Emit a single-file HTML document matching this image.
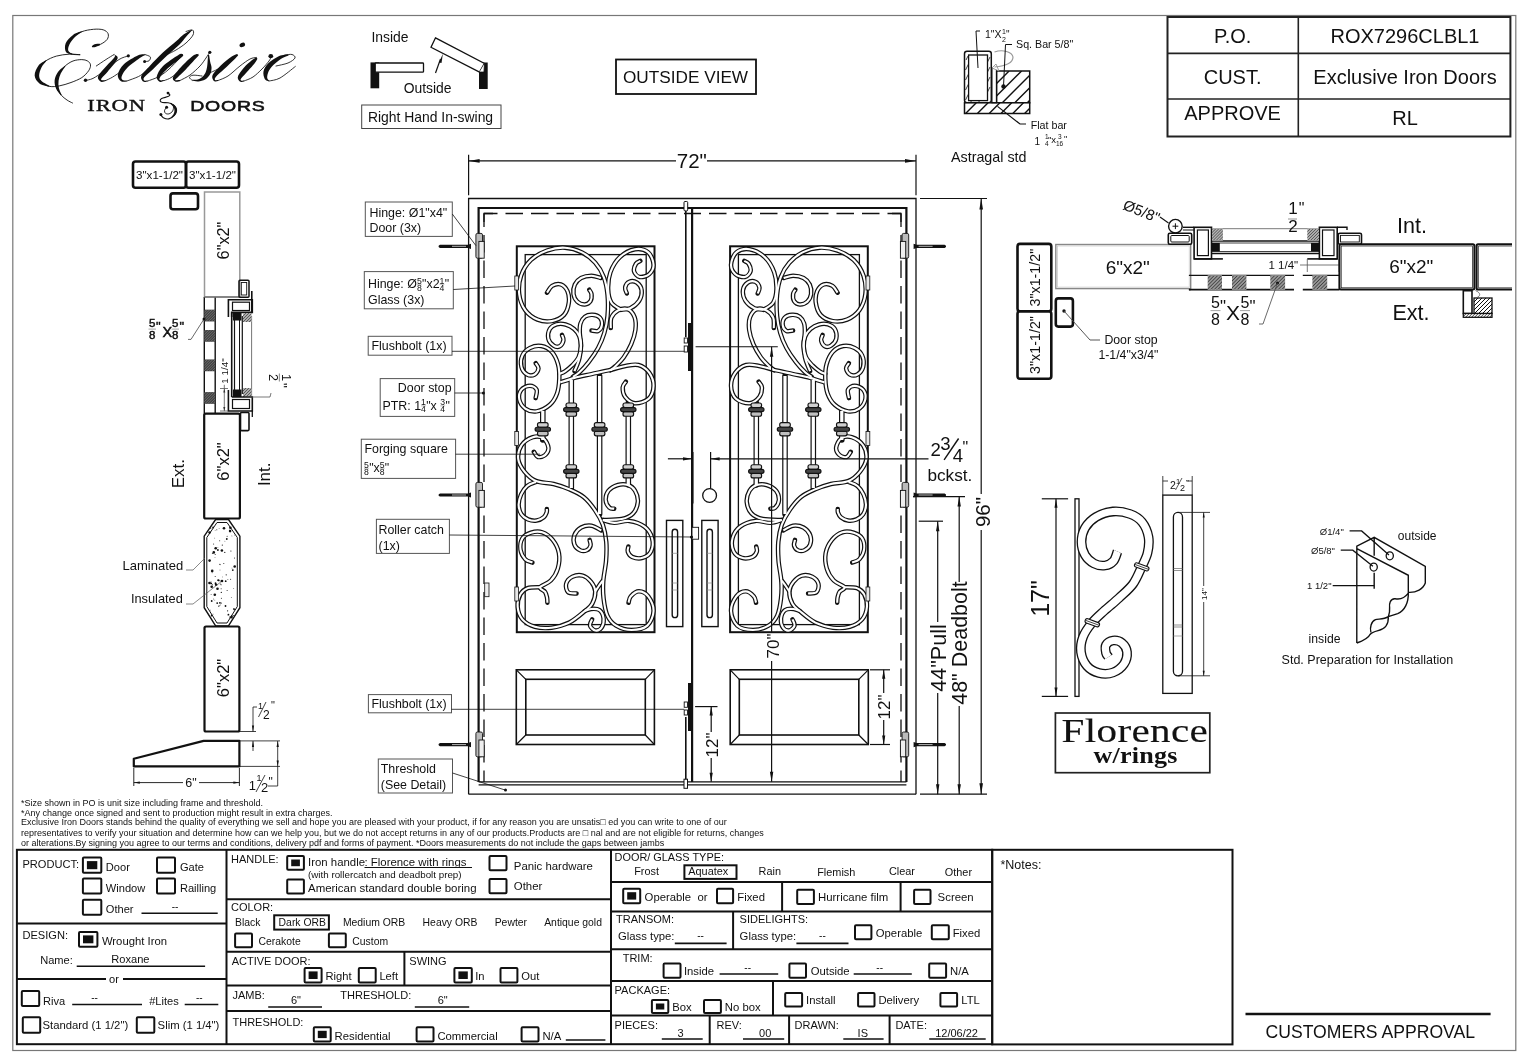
<!DOCTYPE html>
<html><head><meta charset="utf-8">
<style>
html,body{margin:0;padding:0;background:#fff;width:1536px;height:1057px;overflow:hidden}
svg{display:block;will-change:transform}
text{font-family:"Liberation Sans",sans-serif;fill:#111}
</style></head><body>
<svg width="1536" height="1057" viewBox="0 0 1536 1057">
<rect x="0" y="0" width="1536" height="1057" fill="#fff"/>
<rect x="12.8" y="15.5" width="1503" height="1035" fill="none" stroke="#777" stroke-width="1.2"/>
<rect x="1167.5" y="17.0" width="342.9" height="119.5" stroke="#222" stroke-width="2" fill="none" rx="0" />
<line x1="1298.3" y1="17.0" x2="1298.3" y2="136.5" stroke="#222" stroke-width="1.6" />
<line x1="1167.5" y1="53.4" x2="1510.4" y2="53.4" stroke="#222" stroke-width="1.6" />
<line x1="1167.5" y1="99.0" x2="1510.4" y2="99.0" stroke="#222" stroke-width="1.6" />
<text x="1232.6" y="42.8" font-size="20" text-anchor="middle" >P.O.</text>
<text x="1405.0" y="42.8" font-size="20" text-anchor="middle" >ROX7296CLBL1</text>
<text x="1232.6" y="83.8" font-size="20" text-anchor="middle" >CUST.</text>
<text x="1405.0" y="83.8" font-size="20" text-anchor="middle" >Exclusive Iron Doors</text>
<text x="1232.6" y="120.0" font-size="20" text-anchor="middle" >APPROVE</text>
<text x="1405.0" y="124.8" font-size="20" text-anchor="middle" >RL</text>
<text x="20.9" y="806.0" font-size="9" >*Size shown in PO is unit size including frame and threshold.</text>
<text x="20.9" y="815.6" font-size="9" >*Any change once signed and sent to production might result in extra charges.</text>
<text x="20.9" y="824.6" font-size="9" >Exclusive Iron Doors stands behind the quality of everything we sell and hope you are pleased with your product, if for any reason you are unsatis□ ed you can write to one of our</text>
<text x="20.9" y="835.6" font-size="9" >representatives to verify your situation and determine how can we help you, but we do not accept returns in any of our products.Products are □ nal and are not eligible for returns, changes</text>
<text x="20.9" y="845.8" font-size="9" >or alterations.By signing you agree to our terms and conditions, delivery pdf and forms of payment. *Doors measurements do not include the gaps between jambs</text>
<rect x="16.9" y="849.8" width="975.3" height="194.4" stroke="#111" stroke-width="2" fill="none" rx="0" />
<line x1="226.5" y1="849.8" x2="226.5" y2="1044.2" stroke="#111" stroke-width="2" />
<line x1="611.0" y1="849.8" x2="611.0" y2="1044.2" stroke="#111" stroke-width="2" />
<rect x="992.2" y="849.8" width="240.3" height="194.6" stroke="#111" stroke-width="2" fill="none" rx="0" />
<line x1="16.9" y1="923.6" x2="226.5" y2="923.6" stroke="#111" stroke-width="2" />
<line x1="16.9" y1="978.9" x2="106.0" y2="978.9" stroke="#111" stroke-width="2" />
<line x1="123.0" y1="978.9" x2="226.5" y2="978.9" stroke="#111" stroke-width="2" />
<text x="22.4" y="867.9" font-size="11.1" >PRODUCT:</text>
<rect x="82.9" y="857.6" width="18.4" height="15.1" stroke="#111" stroke-width="2" fill="none" rx="1" />
<rect x="86.9" y="861.1" width="10.4" height="8.1" stroke="#111" stroke-width="0" fill="#111" rx="0" />
<text x="105.8" y="870.6" font-size="11.1" >Door</text>
<rect x="157.0" y="857.6" width="18.0" height="15.1" stroke="#111" stroke-width="2" fill="none" rx="1" />
<text x="179.9" y="870.6" font-size="11.1" >Gate</text>
<rect x="82.9" y="878.4" width="18.4" height="15.1" stroke="#111" stroke-width="2" fill="none" rx="1" />
<text x="105.8" y="891.6" font-size="11.1" >Window</text>
<rect x="157.0" y="878.4" width="18.0" height="15.1" stroke="#111" stroke-width="2" fill="none" rx="1" />
<text x="179.9" y="891.6" font-size="11.1" >Railling</text>
<rect x="82.9" y="899.7" width="18.4" height="15.1" stroke="#111" stroke-width="2" fill="none" rx="1" />
<text x="105.8" y="912.5" font-size="11.1" >Other</text>
<line x1="141.5" y1="913.3" x2="217.7" y2="913.3" stroke="#111" stroke-width="1.6" />
<text x="175.0" y="909.5" font-size="10" text-anchor="middle" >--</text>
<text x="22.4" y="939.1" font-size="11.1" >DESIGN:</text>
<rect x="79.0" y="931.9" width="18.4" height="14.9" stroke="#111" stroke-width="2" fill="none" rx="1" />
<rect x="83.0" y="935.4" width="10.4" height="7.9" stroke="#111" stroke-width="0" fill="#111" rx="0" />
<text x="101.9" y="944.9" font-size="11.3" >Wrought Iron</text>
<text x="40.2" y="964.3" font-size="11.1" >Name:</text>
<line x1="76.7" y1="966.2" x2="205.1" y2="966.2" stroke="#111" stroke-width="1.6" />
<text x="130.4" y="962.5" font-size="11.1" text-anchor="middle" >Roxane</text>
<text x="114.0" y="983.1" font-size="11.1" text-anchor="middle" >or</text>
<rect x="21.8" y="990.9" width="17.4" height="15.1" stroke="#111" stroke-width="2" fill="none" rx="1" />
<text x="43.1" y="1005.0" font-size="11.1" >Riva</text>
<line x1="72.2" y1="1004.5" x2="142.0" y2="1004.5" stroke="#111" stroke-width="1.6" />
<text x="94.5" y="1000.5" font-size="10" text-anchor="middle" >--</text>
<text x="149.2" y="1005.0" font-size="11.1" >#Lites</text>
<line x1="184.7" y1="1004.5" x2="218.3" y2="1004.5" stroke="#111" stroke-width="1.6" />
<text x="199.3" y="1000.5" font-size="10" text-anchor="middle" >--</text>
<rect x="22.8" y="1017.3" width="17.4" height="15.5" stroke="#111" stroke-width="2" fill="none" rx="1" />
<text x="42.5" y="1029.3" font-size="11.3" >Standard (1 1/2")</text>
<rect x="136.8" y="1017.3" width="17.5" height="15.5" stroke="#111" stroke-width="2" fill="none" rx="1" />
<text x="157.6" y="1029.3" font-size="11.3" >Slim (1 1/4")</text>
<line x1="226.5" y1="899.2" x2="611.0" y2="899.2" stroke="#111" stroke-width="2" />
<line x1="226.5" y1="951.8" x2="611.0" y2="951.8" stroke="#111" stroke-width="2" />
<line x1="226.5" y1="985.6" x2="611.0" y2="985.6" stroke="#111" stroke-width="2" />
<line x1="226.5" y1="1010.9" x2="611.0" y2="1010.9" stroke="#111" stroke-width="2" />
<line x1="404.4" y1="951.8" x2="404.4" y2="985.6" stroke="#111" stroke-width="2" />
<text x="231.0" y="862.7" font-size="11" >HANDLE:</text>
<rect x="287.2" y="856.0" width="16.7" height="13.7" stroke="#111" stroke-width="2" fill="none" rx="1" />
<rect x="291.2" y="859.5" width="8.7" height="6.7" stroke="#111" stroke-width="0" fill="#111" rx="0" />
<text x="308.0" y="866.4" font-size="11.4" >Iron handle</text>
<text x="364.5" y="865.5" font-size="11.4" >: Florence with rings</text>
<line x1="364.5" y1="867.5" x2="472.0" y2="867.5" stroke="#111" stroke-width="1.2" />
<text x="308.0" y="878.3" font-size="9.8" >(with rollercatch and deadbolt prep)</text>
<rect x="287.2" y="879.6" width="16.7" height="13.8" stroke="#111" stroke-width="2" fill="none" rx="1" />
<text x="308.0" y="891.9" font-size="11.45" >American standard double boring</text>
<rect x="489.5" y="856.0" width="17.0" height="14.3" stroke="#111" stroke-width="2" fill="none" rx="1" />
<text x="513.8" y="869.7" font-size="11.4" >Panic hardware</text>
<rect x="489.5" y="878.9" width="17.0" height="14.3" stroke="#111" stroke-width="2" fill="none" rx="1" />
<text x="513.8" y="889.8" font-size="11.4" >Other</text>
<text x="231.0" y="911.4" font-size="11" >COLOR:</text>
<text x="235.1" y="925.7" font-size="10.4" >Black</text>
<rect x="274.2" y="915.3" width="54.7" height="14.3" stroke="#111" stroke-width="2" fill="none" rx="0" />
<text x="278.6" y="925.7" font-size="10.4" >Dark ORB</text>
<text x="342.9" y="925.7" font-size="10.4" >Medium ORB</text>
<text x="422.6" y="925.7" font-size="10.4" >Heavy ORB</text>
<text x="494.7" y="925.7" font-size="10.4" >Pewter</text>
<text x="544.2" y="925.7" font-size="10.4" >Antique gold</text>
<rect x="235.1" y="933.5" width="16.9" height="13.8" stroke="#111" stroke-width="2" fill="none" rx="1" />
<text x="258.5" y="945.3" font-size="10.4" >Cerakote</text>
<rect x="328.9" y="933.5" width="16.9" height="13.8" stroke="#111" stroke-width="2" fill="none" rx="1" />
<text x="352.3" y="945.3" font-size="10.4" >Custom</text>
<text x="231.7" y="964.8" font-size="11" >ACTIVE DOOR:</text>
<rect x="304.6" y="967.9" width="17.0" height="14.6" stroke="#111" stroke-width="2" fill="none" rx="1" />
<rect x="308.6" y="971.4" width="9.0" height="7.6" stroke="#111" stroke-width="0" fill="#111" rx="0" />
<text x="325.5" y="980.4" font-size="11.2" >Right</text>
<rect x="358.8" y="967.9" width="16.9" height="14.6" stroke="#111" stroke-width="2" fill="none" rx="1" />
<text x="379.4" y="980.4" font-size="11.2" >Left</text>
<text x="409.3" y="964.8" font-size="11" >SWING</text>
<rect x="454.4" y="967.9" width="17.4" height="14.6" stroke="#111" stroke-width="2" fill="none" rx="1" />
<rect x="458.4" y="971.4" width="9.4" height="7.6" stroke="#111" stroke-width="0" fill="#111" rx="0" />
<text x="475.2" y="980.4" font-size="11.2" >In</text>
<rect x="500.5" y="967.9" width="16.9" height="14.6" stroke="#111" stroke-width="2" fill="none" rx="1" />
<text x="521.3" y="980.4" font-size="11.2" >Out</text>
<text x="232.5" y="998.6" font-size="11" >JAMB:</text>
<line x1="268.2" y1="1007.0" x2="322.0" y2="1007.0" stroke="#111" stroke-width="1.6" />
<text x="296.0" y="1004.4" font-size="11" text-anchor="middle" >6"</text>
<text x="340.3" y="998.6" font-size="11" >THRESHOLD:</text>
<line x1="414.8" y1="1007.0" x2="469.2" y2="1007.0" stroke="#111" stroke-width="1.6" />
<text x="442.7" y="1004.4" font-size="11" text-anchor="middle" >6"</text>
<text x="232.5" y="1026.0" font-size="11" >THRESHOLD:</text>
<rect x="313.8" y="1027.3" width="16.9" height="14.3" stroke="#111" stroke-width="2" fill="none" rx="1" />
<rect x="317.8" y="1030.8" width="8.9" height="7.3" stroke="#111" stroke-width="0" fill="#111" rx="0" />
<text x="334.6" y="1039.8" font-size="11.3" >Residential</text>
<rect x="416.6" y="1027.3" width="16.9" height="14.3" stroke="#111" stroke-width="2" fill="none" rx="1" />
<text x="437.4" y="1039.8" font-size="11.3" >Commercial</text>
<rect x="521.6" y="1027.3" width="16.9" height="14.3" stroke="#111" stroke-width="2" fill="none" rx="1" />
<text x="542.4" y="1039.8" font-size="11.3" >N/A</text>
<line x1="565.8" y1="1040.0" x2="605.4" y2="1040.0" stroke="#111" stroke-width="1.6" />
<line x1="611.0" y1="882.0" x2="992.2" y2="882.0" stroke="#111" stroke-width="2" />
<line x1="611.0" y1="911.4" x2="992.2" y2="911.4" stroke="#111" stroke-width="2" />
<line x1="611.0" y1="949.2" x2="992.2" y2="949.2" stroke="#111" stroke-width="2" />
<line x1="611.0" y1="981.0" x2="992.2" y2="981.0" stroke="#111" stroke-width="2" />
<line x1="611.0" y1="1015.6" x2="992.2" y2="1015.6" stroke="#111" stroke-width="2" />
<line x1="782.1" y1="882.0" x2="782.1" y2="911.4" stroke="#111" stroke-width="2" />
<line x1="900.6" y1="882.0" x2="900.6" y2="911.4" stroke="#111" stroke-width="2" />
<line x1="733.1" y1="911.4" x2="733.1" y2="949.2" stroke="#111" stroke-width="2" />
<line x1="773.0" y1="981.0" x2="773.0" y2="1015.6" stroke="#111" stroke-width="2" />
<line x1="709.7" y1="1015.6" x2="709.7" y2="1044.2" stroke="#111" stroke-width="2" />
<line x1="789.1" y1="1015.6" x2="789.1" y2="1044.2" stroke="#111" stroke-width="2" />
<line x1="889.6" y1="1015.6" x2="889.6" y2="1044.2" stroke="#111" stroke-width="2" />
<text x="614.6" y="860.6" font-size="10.9" >DOOR/ GLASS TYPE:</text>
<text x="634.2" y="875.3" font-size="10.9" >Frost</text>
<rect x="684.4" y="865.3" width="52.1" height="13.6" stroke="#111" stroke-width="2" fill="none" rx="0" />
<text x="688.3" y="875.3" font-size="10.9" >Aquatex</text>
<text x="758.6" y="875.3" font-size="10.9" >Rain</text>
<text x="817.2" y="876.0" font-size="10.9" >Flemish</text>
<text x="888.9" y="875.3" font-size="10.9" >Clear</text>
<text x="944.8" y="876.0" font-size="10.9" >Other</text>
<rect x="623.2" y="888.8" width="17.0" height="14.4" stroke="#111" stroke-width="2" fill="none" rx="1" />
<rect x="627.2" y="892.2" width="9.0" height="7.4" stroke="#111" stroke-width="0" fill="#111" rx="0" />
<text x="644.6" y="901.0" font-size="11.3" >Operable</text>
<text x="697.4" y="901.0" font-size="11.3" >or</text>
<rect x="717.0" y="888.8" width="16.1" height="14.4" stroke="#111" stroke-width="2" fill="none" rx="1" />
<text x="737.3" y="901.0" font-size="11.3" >Fixed</text>
<rect x="797.2" y="889.8" width="16.7" height="14.1" stroke="#111" stroke-width="2" fill="none" rx="1" />
<text x="818.0" y="901.0" font-size="11.4" >Hurricane film</text>
<rect x="914.1" y="889.8" width="16.4" height="14.1" stroke="#111" stroke-width="2" fill="none" rx="1" />
<text x="937.6" y="901.0" font-size="11.4" >Screen</text>
<text x="616.0" y="923.1" font-size="11" >TRANSOM:</text>
<text x="618.0" y="940.0" font-size="11.3" >Glass type:</text>
<line x1="674.8" y1="943.4" x2="726.6" y2="943.4" stroke="#111" stroke-width="1.6" />
<text x="700.6" y="939.0" font-size="10" text-anchor="middle" >--</text>
<text x="739.6" y="923.1" font-size="11" >SIDELIGHTS:</text>
<text x="739.6" y="940.0" font-size="11.3" >Glass type:</text>
<line x1="796.4" y1="943.4" x2="848.5" y2="943.4" stroke="#111" stroke-width="1.6" />
<text x="822.4" y="939.0" font-size="10" text-anchor="middle" >--</text>
<rect x="855.0" y="925.2" width="16.4" height="14.1" stroke="#111" stroke-width="2" fill="none" rx="1" />
<text x="875.8" y="936.7" font-size="11.3" >Operable</text>
<rect x="931.8" y="925.2" width="17.0" height="14.1" stroke="#111" stroke-width="2" fill="none" rx="1" />
<text x="952.7" y="936.7" font-size="11.3" >Fixed</text>
<text x="622.7" y="961.7" font-size="11" >TRIM:</text>
<rect x="663.6" y="963.5" width="16.9" height="14.3" stroke="#111" stroke-width="2" fill="none" rx="1" />
<text x="683.9" y="975.2" font-size="11.3" >Inside</text>
<line x1="719.6" y1="974.0" x2="778.2" y2="974.0" stroke="#111" stroke-width="1.6" />
<text x="747.7" y="970.5" font-size="10" text-anchor="middle" >--</text>
<rect x="789.4" y="963.5" width="16.6" height="14.3" stroke="#111" stroke-width="2" fill="none" rx="1" />
<text x="810.7" y="975.2" font-size="11.3" >Outside</text>
<line x1="853.7" y1="974.0" x2="911.8" y2="974.0" stroke="#111" stroke-width="1.6" />
<text x="879.7" y="970.5" font-size="10" text-anchor="middle" >--</text>
<rect x="929.2" y="963.5" width="16.9" height="14.3" stroke="#111" stroke-width="2" fill="none" rx="1" />
<text x="950.0" y="975.2" font-size="11.3" >N/A</text>
<text x="614.6" y="994.0" font-size="11" >PACKAGE:</text>
<rect x="651.9" y="1000.0" width="16.4" height="13.0" stroke="#111" stroke-width="2" fill="none" rx="1" />
<rect x="655.9" y="1003.5" width="8.4" height="6.0" stroke="#111" stroke-width="0" fill="#111" rx="0" />
<text x="672.2" y="1011.1" font-size="11.3" >Box</text>
<rect x="704.0" y="1000.0" width="16.9" height="13.0" stroke="#111" stroke-width="2" fill="none" rx="1" />
<text x="724.8" y="1011.1" font-size="11.3" >No box</text>
<rect x="785.2" y="992.9" width="16.9" height="13.6" stroke="#111" stroke-width="2" fill="none" rx="1" />
<text x="806.0" y="1004.4" font-size="11.3" >Install</text>
<rect x="858.1" y="992.9" width="16.4" height="13.6" stroke="#111" stroke-width="2" fill="none" rx="1" />
<text x="878.4" y="1004.4" font-size="11.3" >Delivery</text>
<rect x="940.4" y="992.9" width="16.7" height="13.6" stroke="#111" stroke-width="2" fill="none" rx="1" />
<text x="961.2" y="1004.4" font-size="11.3" >LTL</text>
<text x="614.6" y="1028.6" font-size="11" >PIECES:</text>
<line x1="661.8" y1="1039.0" x2="702.7" y2="1039.0" stroke="#111" stroke-width="1.6" />
<text x="680.5" y="1037.2" font-size="11" text-anchor="middle" >3</text>
<text x="716.5" y="1028.6" font-size="11" >REV:</text>
<line x1="743.0" y1="1039.0" x2="784.2" y2="1039.0" stroke="#111" stroke-width="1.6" />
<text x="765.2" y="1037.2" font-size="11" text-anchor="middle" >00</text>
<text x="794.6" y="1028.6" font-size="11" >DRAWN:</text>
<line x1="843.3" y1="1039.0" x2="883.6" y2="1039.0" stroke="#111" stroke-width="1.6" />
<text x="862.8" y="1037.2" font-size="11" text-anchor="middle" >IS</text>
<text x="895.4" y="1028.6" font-size="11" >DATE:</text>
<line x1="929.2" y1="1039.0" x2="985.7" y2="1039.0" stroke="#111" stroke-width="1.6" />
<text x="956.6" y="1037.2" font-size="11" text-anchor="middle" >12/06/22</text>
<text x="1000.4" y="868.8" font-size="12.5" >*Notes:</text>
<line x1="1245.5" y1="1014.0" x2="1490.6" y2="1014.0" stroke="#111" stroke-width="2.6" />
<text x="1265.5" y="1038.0" font-size="17.6" >CUSTOMERS APPROVAL</text>
<path d="M468.6,794.2 L468.6,198.5 L916,198.5 L916,794.2" fill="none" stroke="#111" stroke-width="1.3"/>
<line x1="468.6" y1="794.2" x2="916.0" y2="794.2" stroke="#111" stroke-width="1.3" />
<path d="M478.6,782 L478.6,208 L906.4,208 L906.4,782" fill="none" stroke="#111" stroke-width="2.2"/>
<line x1="692.1" y1="208.0" x2="692.1" y2="782.0" stroke="#111" stroke-width="2.2" />
<line x1="478.6" y1="781.8" x2="906.4" y2="781.8" stroke="#111" stroke-width="1.3" />
<line x1="478.6" y1="784.8" x2="906.4" y2="784.8" stroke="#111" stroke-width="1.3" />
<g fill="none" stroke="#111" stroke-width="1.3" stroke-dasharray="17.5,8" stroke-dashoffset="4"><path d="M484,213.5 L484,782"/><path d="M484,213.5 L692,213.5"/><path d="M901,213.5 L901,782"/><path d="M901,213.5 L692,213.5"/></g>
<path d="M484,222 L484,213.5 L493,213.5 M901,222 L901,213.5 L892,213.5" fill="none" stroke="#111" stroke-width="1.3"/>
<rect x="516.8" y="246.3" width="137.7" height="385.9" stroke="#111" stroke-width="2" fill="none" rx="0" />
<rect x="525.2" y="254.6" width="121.0" height="370.0" stroke="#111" stroke-width="1.3" fill="none" rx="0" />
<rect x="516.3" y="669.8" width="138.1" height="74.7" stroke="#111" stroke-width="1.6" fill="none" rx="0" />
<rect x="525.8" y="679.3" width="119.5" height="55.7" stroke="#111" stroke-width="1.6" fill="none" rx="0" />
<path d="M516.3,669.8 L525.8,679.3 M654.4,669.8 L645.3,679.3 M516.3,744.5 L525.8,735 M654.4,744.5 L645.3,735" stroke="#111" stroke-width="1.2"/>
<rect x="666.5" y="520.4" width="16.3" height="106.2" stroke="#111" stroke-width="1.4" fill="none" rx="0" />
<rect x="672.2" y="529.3" width="5.4" height="88.3" stroke="#111" stroke-width="1.4" fill="none" rx="2.7" />
<line x1="672.2" y1="553.3" x2="677.6" y2="553.3" stroke="#888" stroke-width="0.7" />
<line x1="672.2" y1="583.0" x2="677.6" y2="583.0" stroke="#888" stroke-width="0.7" />
<line x1="672.2" y1="590.0" x2="677.6" y2="590.0" stroke="#888" stroke-width="0.7" />
<rect x="730.1" y="246.3" width="137.7" height="385.9" stroke="#111" stroke-width="2" fill="none" rx="0" />
<rect x="738.4" y="254.6" width="121.0" height="370.0" stroke="#111" stroke-width="1.3" fill="none" rx="0" />
<rect x="730.2" y="669.8" width="138.1" height="74.7" stroke="#111" stroke-width="1.6" fill="none" rx="0" />
<rect x="739.3" y="679.3" width="119.5" height="55.7" stroke="#111" stroke-width="1.6" fill="none" rx="0" />
<path d="M730.1999999999999,669.8 L739.3,679.3 M868.3,669.8 L858.8,679.3 M730.1999999999999,744.5 L739.3,735 M868.3,744.5 L858.8,735" stroke="#111" stroke-width="1.2"/>
<rect x="701.8" y="520.4" width="16.3" height="106.2" stroke="#111" stroke-width="1.4" fill="none" rx="0" />
<rect x="707.0" y="529.3" width="5.4" height="88.3" stroke="#111" stroke-width="1.4" fill="none" rx="2.7" />
<line x1="707.0" y1="553.3" x2="712.4" y2="553.3" stroke="#888" stroke-width="0.7" />
<line x1="707.0" y1="583.0" x2="712.4" y2="583.0" stroke="#888" stroke-width="0.7" />
<line x1="707.0" y1="590.0" x2="712.4" y2="590.0" stroke="#888" stroke-width="0.7" />
<g><g fill="none" stroke="#111" stroke-width="4.5" stroke-linecap="round">
<path d="M547.01,292.72 C547.86,291.58 549.82,287.29 552.12,285.91 C554.42,284.52 558.27,283.51 560.83,284.39 C563.38,285.28 566.13,288.11 567.45,291.21 C568.78,294.30 569.34,299.00 568.78,302.94 C568.21,306.88 566.88,311.83 564.04,314.86 C561.21,317.89 556.16,320.32 551.74,321.11 C547.33,321.90 541.96,321.42 537.55,319.59 C533.13,317.76 528.31,314.39 525.25,310.13 C522.19,305.87 519.89,299.78 519.19,294.04 C518.50,288.30 519.13,281.36 521.08,275.69 C523.04,270.01 526.60,264.17 530.93,259.98 C535.25,255.78 541.33,252.57 547.01,250.52 C552.69,248.47 559.15,247.36 564.99,247.68 C570.83,247.99 576.98,249.89 582.02,252.41 C587.07,254.93 591.64,258.72 595.27,262.82 C598.90,266.92 601.74,271.65 603.79,277.01 C605.84,282.37 606.94,288.52 607.57,294.99 C608.20,301.46 608.11,309.50 607.57,315.81 C607.04,322.12 605.93,327.48 604.35,332.84 C602.78,338.20 600.73,343.09 598.11,347.98 C595.49,352.87 591.80,358.07 588.65,362.17 C585.49,366.27 581.80,370.15 579.18,372.58 C576.57,375.01 573.98,376.05 572.94,376.75"/>
<path d="M600.95,277.96 C599.37,277.58 594.80,275.69 591.49,275.69 C588.17,275.69 583.85,276.48 581.08,277.96 C578.30,279.44 576.09,281.90 574.83,284.58 C573.57,287.26 573.10,291.21 573.51,294.04 C573.92,296.88 575.40,299.88 577.29,301.61 C579.18,303.35 582.65,304.55 584.86,304.45 C587.07,304.36 589.44,302.78 590.54,301.05 C591.64,299.31 591.71,295.94 591.49,294.04 C591.26,292.15 589.59,290.42 589.21,289.69"/>
<path d="M620.82,309.75 C619.24,308.55 613.47,305.97 611.36,302.56 C609.24,299.15 608.30,294.36 608.14,289.31 C607.98,284.27 608.45,277.64 610.41,272.28 C612.37,266.92 615.77,260.99 619.87,257.14 C623.97,253.29 630.28,249.98 635.01,249.19 C639.74,248.40 645.17,249.82 648.26,252.41 C651.35,255.00 653.40,261.08 653.56,264.71 C653.72,268.34 651.51,272.12 649.21,274.17 C646.90,276.22 642.27,277.48 639.74,277.01 C637.22,276.54 634.70,273.54 634.07,271.33 C633.44,269.13 634.92,265.50 635.96,263.76 C637.00,262.03 639.59,261.40 640.31,260.93"/>
<path d="M620.82,309.75 C622.40,309.50 627.22,309.75 630.28,308.24 C633.34,306.72 637.28,303.66 639.18,300.67 C641.07,297.67 642.02,293.26 641.64,290.26 C641.26,287.26 638.96,284.11 636.91,282.69 C634.86,281.27 631.29,280.95 629.34,281.74 C627.38,282.53 625.58,285.46 625.17,287.42 C624.76,289.38 626.59,292.47 626.88,293.48"/>
<path d="M610.79,328.11 C610.88,326.37 610.16,320.63 611.36,317.70 C612.56,314.77 615.24,311.93 617.98,310.51 C620.72,309.09 625.05,308.05 627.82,309.18 C630.60,310.32 633.37,313.85 634.63,317.32 C635.90,320.79 635.96,325.52 635.39,330.00 C634.82,334.48 633.18,339.62 631.23,344.20 C629.27,348.77 626.24,353.82 623.66,357.44 C621.07,361.07 617.92,363.81 615.71,365.96 C613.50,368.10 611.29,369.59 610.41,370.31"/>
<path d="M560.26,382.42 C562.62,381.67 569.25,379.27 574.45,377.88 C579.66,376.49 585.49,375.42 591.49,374.10 C597.48,372.77 604.73,371.29 610.41,369.93 C616.09,368.58 620.88,366.78 625.55,365.96 C630.22,365.14 634.48,363.91 638.42,365.01 C642.36,366.12 646.68,369.11 649.21,372.58 C651.73,376.05 653.65,381.48 653.56,385.83 C653.46,390.18 651.73,395.80 648.64,398.70 C645.55,401.60 638.92,403.56 635.01,403.24 C631.10,402.93 627.22,399.46 625.17,396.81 C623.12,394.16 622.59,389.87 622.71,387.34 C622.84,384.82 625.39,382.61 625.93,381.67"/>
<path d="M561.96,334.92 C562.21,335.81 563.85,338.33 563.48,340.22 C563.10,342.11 561.33,345.39 559.69,346.28 C558.05,347.16 555.53,346.78 553.64,345.52 C551.74,344.26 548.97,341.48 548.34,338.71 C547.71,335.93 548.46,331.26 549.85,328.87 C551.24,326.47 554.05,325.05 556.66,324.32 C559.28,323.60 562.66,323.72 565.56,324.51 C568.46,325.30 571.77,327.07 574.07,329.06 C576.38,331.04 578.24,333.57 579.37,336.44 C580.51,339.31 581.01,342.84 580.89,346.28 C580.76,349.72 580.07,353.88 578.62,357.06 C577.17,360.25 574.45,363.03 572.18,365.39 C569.91,367.76 567.13,369.84 564.99,371.26 C562.85,372.68 560.26,373.47 559.31,373.91"/>
<path d="M591.49,330.57 C592.59,330.63 596.37,331.83 598.11,330.95 C599.84,330.06 601.58,327.48 601.89,325.27 C602.21,323.06 601.58,319.44 600.00,317.70 C598.42,315.97 594.95,315.02 592.43,314.86 C589.91,314.70 586.85,315.33 584.86,316.75 C582.87,318.17 581.36,320.70 580.51,323.38 C579.66,326.06 579.66,329.21 579.75,332.84 C579.85,336.47 581.11,341.04 581.08,345.14 C581.04,349.24 580.26,354.07 579.56,357.44 C578.87,360.82 577.76,363.12 576.91,365.39 C576.06,367.66 574.86,370.12 574.45,371.07"/>
<path d="M535.66,363.12 C536.13,364.00 538.65,366.53 538.50,368.42 C538.34,370.31 536.60,373.47 534.71,374.48 C532.82,375.48 529.35,375.74 527.14,374.48 C524.93,373.21 522.25,370.06 521.46,366.91 C520.67,363.75 520.99,358.70 522.41,355.55 C523.83,352.40 526.82,349.56 529.98,347.98 C533.13,346.40 537.71,345.46 541.33,346.09 C544.96,346.72 548.97,348.77 551.74,351.77 C554.52,354.76 556.73,359.65 557.99,364.07 C559.25,368.48 559.47,373.37 559.31,378.26 C559.15,383.15 558.62,388.98 557.04,393.40 C555.46,397.82 553.26,401.76 549.85,404.76 C546.44,407.75 540.70,410.75 536.60,411.38 C532.50,412.01 528.15,410.59 525.25,408.54 C522.35,406.49 519.82,402.23 519.19,399.08 C518.56,395.92 519.66,391.82 521.46,389.62 C523.26,387.41 527.46,385.83 529.98,385.83 C532.50,385.83 535.66,387.57 536.60,389.62 C537.55,391.67 535.81,396.71 535.66,398.13"/>
<path d="M533.86,451.78 C534.55,452.64 536.11,456.46 538.02,456.98 C539.93,457.50 543.57,456.46 545.31,454.90 C547.04,453.34 548.78,450.39 548.43,447.61 C548.08,444.84 545.83,439.98 543.23,438.25 C540.62,436.51 536.46,435.99 532.82,437.20 C529.17,438.42 523.80,441.89 521.37,445.53 C518.94,449.17 517.72,454.73 518.25,459.06 C518.77,463.40 521.54,467.91 524.49,471.55 C527.44,475.20 531.08,478.84 535.94,480.92 C540.80,483.00 548.08,482.66 553.64,484.04 C559.19,485.43 564.20,487.04 569.25,489.25 C574.29,491.46 579.58,493.74 583.92,497.29 C588.25,500.84 592.12,505.97 595.27,510.54 C598.42,515.11 601.01,519.53 602.84,524.73 C604.67,529.94 605.71,535.77 606.25,541.77 C606.78,547.76 606.56,554.07 606.06,560.69 C605.55,567.31 603.63,575.20 603.22,581.51 C602.81,587.82 602.90,592.86 603.60,598.54 C604.29,604.22 605.30,611.06 607.38,615.57 C609.46,620.08 612.05,623.21 616.09,625.60 C620.13,628.00 626.40,629.96 631.61,629.96 C636.81,629.96 643.66,628.76 647.31,625.60 C650.97,622.45 653.40,615.89 653.56,611.03 C653.72,606.17 650.69,599.74 648.26,596.46 C645.83,593.18 641.92,591.35 638.99,591.35 C636.05,591.35 632.39,594.57 630.66,596.46 C628.93,598.35 628.93,601.66 628.58,602.70"/>
<path d="M535.94,481.96 C534.47,482.62 529.62,483.85 527.14,485.94 C524.66,488.02 522.50,491.30 521.08,494.45 C519.66,497.61 518.56,501.55 518.62,504.86 C518.69,508.17 519.89,511.90 521.46,514.32 C523.04,516.75 525.56,518.39 528.09,519.43 C530.61,520.47 533.98,520.95 536.60,520.57 C539.22,520.19 542.12,518.52 543.79,517.16 C545.47,515.81 546.13,513.79 546.63,512.43 C547.14,511.08 546.79,509.59 546.82,509.02"/>
<path d="M532.44,562.58 C531.24,562.02 527.23,561.32 525.25,559.18 C523.26,557.03 520.99,553.18 520.52,549.71 C520.04,546.24 520.67,541.20 522.41,538.36 C524.14,535.52 527.61,533.69 530.93,532.68 C534.24,531.67 538.65,531.10 542.28,532.30 C545.91,533.50 549.91,536.40 552.69,539.87 C555.46,543.34 558.08,548.33 558.93,553.12 C559.79,557.91 559.15,564.07 557.80,568.64 C556.44,573.21 553.75,577.47 550.80,580.56 C547.85,583.65 541.05,585.29 540.10,587.19 C539.16,589.08 543.97,590.18 545.12,591.92 C546.27,593.65 546.63,595.80 547.01,597.59 C547.39,599.39 547.33,601.85 547.39,602.70"/>
<path d="M576.53,593.43 C575.15,593.24 569.94,593.87 568.21,592.30 C566.47,590.72 565.43,586.55 566.13,583.97 C566.82,581.38 569.60,578.16 572.37,576.78 C575.15,575.39 579.66,574.79 582.78,575.64 C585.90,576.49 589.02,579.27 591.11,581.89 C593.19,584.50 595.10,587.69 595.27,591.35 C595.44,595.01 593.88,600.56 592.15,603.84 C590.41,607.12 588.68,607.91 584.86,611.03 C581.04,614.15 574.80,619.80 569.25,622.58 C563.70,625.35 557.28,626.99 551.55,627.69 C545.83,628.38 539.76,628.13 534.90,626.74 C530.04,625.35 525.28,622.67 522.41,619.36 C519.54,616.05 518.02,611.03 517.68,606.87 C517.33,602.70 518.67,597.50 520.33,594.38 C521.98,591.25 524.32,589.33 527.61,588.13 C530.91,586.93 538.02,587.34 540.10,587.19"/>
<path d="M602.84,580.56 C602.15,581.51 599.94,584.44 598.68,586.24 C597.42,588.04 595.84,590.50 595.27,591.35"/>
<path d="M592.15,619.36 C591.80,620.40 589.55,623.74 590.07,625.60 C590.59,627.46 593.36,630.18 595.27,630.52 C597.18,630.87 600.13,629.70 601.52,627.69 C602.90,625.67 603.94,621.35 603.60,618.41 C603.25,615.48 601.52,611.66 599.43,610.08 C597.35,608.51 593.54,608.79 591.11,608.95 C588.68,609.11 585.90,610.68 584.86,611.03"/>
<path d="M589.59,539.87 C589.75,540.82 591.01,543.82 590.54,545.55 C590.07,547.29 588.49,549.49 586.75,550.28 C585.02,551.07 582.18,551.23 580.13,550.28 C578.08,549.34 575.40,547.13 574.45,544.60 C573.51,542.08 573.35,537.98 574.45,535.14 C575.56,532.30 578.24,529.15 581.08,527.57 C583.92,525.99 588.11,525.21 591.49,525.68 C594.86,526.15 599.69,529.62 601.33,530.41"/>
<path d="M602.84,520.00 C604.73,520.47 609.78,522.68 614.20,522.84 C618.61,523.00 624.29,520.32 629.34,520.95 C634.38,521.58 640.69,523.79 644.48,526.63 C648.26,529.46 650.94,533.88 652.05,537.98 C653.15,542.08 652.68,547.92 651.10,551.23 C649.52,554.54 645.74,556.91 642.58,557.85 C639.43,558.80 634.63,557.95 632.17,556.91 C629.71,555.86 628.45,553.34 627.82,551.61 C627.19,549.87 628.29,547.35 628.39,546.50"/>
<path d="M614.20,508.65 C613.41,508.49 610.88,509.12 609.46,507.70 C608.04,506.28 605.84,502.97 605.68,500.13 C605.52,497.29 606.47,493.19 608.52,490.67 C610.57,488.14 614.76,485.94 617.98,484.99 C621.20,484.04 624.98,484.04 627.82,484.99 C630.66,485.94 633.34,487.83 635.01,490.67 C636.68,493.51 638.17,498.24 637.85,502.02 C637.54,505.81 635.80,510.54 633.12,513.38 C630.44,516.22 626.81,517.95 621.77,519.06 C616.72,520.16 605.99,519.84 602.84,520.00"/>
<path d="M542.80,411.00 L542.80,440.00 M571.30,380.00 L571.30,488.00 M599.60,376.00 L599.60,514.00 M628.30,403.00 L628.30,485.00 " stroke-width="5.6"/>
</g>
<g fill="none" stroke="#fff" stroke-width="2.1" stroke-linecap="butt">
<path d="M547.01,292.72 C547.86,291.58 549.82,287.29 552.12,285.91 C554.42,284.52 558.27,283.51 560.83,284.39 C563.38,285.28 566.13,288.11 567.45,291.21 C568.78,294.30 569.34,299.00 568.78,302.94 C568.21,306.88 566.88,311.83 564.04,314.86 C561.21,317.89 556.16,320.32 551.74,321.11 C547.33,321.90 541.96,321.42 537.55,319.59 C533.13,317.76 528.31,314.39 525.25,310.13 C522.19,305.87 519.89,299.78 519.19,294.04 C518.50,288.30 519.13,281.36 521.08,275.69 C523.04,270.01 526.60,264.17 530.93,259.98 C535.25,255.78 541.33,252.57 547.01,250.52 C552.69,248.47 559.15,247.36 564.99,247.68 C570.83,247.99 576.98,249.89 582.02,252.41 C587.07,254.93 591.64,258.72 595.27,262.82 C598.90,266.92 601.74,271.65 603.79,277.01 C605.84,282.37 606.94,288.52 607.57,294.99 C608.20,301.46 608.11,309.50 607.57,315.81 C607.04,322.12 605.93,327.48 604.35,332.84 C602.78,338.20 600.73,343.09 598.11,347.98 C595.49,352.87 591.80,358.07 588.65,362.17 C585.49,366.27 581.80,370.15 579.18,372.58 C576.57,375.01 573.98,376.05 572.94,376.75"/>
<path d="M600.95,277.96 C599.37,277.58 594.80,275.69 591.49,275.69 C588.17,275.69 583.85,276.48 581.08,277.96 C578.30,279.44 576.09,281.90 574.83,284.58 C573.57,287.26 573.10,291.21 573.51,294.04 C573.92,296.88 575.40,299.88 577.29,301.61 C579.18,303.35 582.65,304.55 584.86,304.45 C587.07,304.36 589.44,302.78 590.54,301.05 C591.64,299.31 591.71,295.94 591.49,294.04 C591.26,292.15 589.59,290.42 589.21,289.69"/>
<path d="M620.82,309.75 C619.24,308.55 613.47,305.97 611.36,302.56 C609.24,299.15 608.30,294.36 608.14,289.31 C607.98,284.27 608.45,277.64 610.41,272.28 C612.37,266.92 615.77,260.99 619.87,257.14 C623.97,253.29 630.28,249.98 635.01,249.19 C639.74,248.40 645.17,249.82 648.26,252.41 C651.35,255.00 653.40,261.08 653.56,264.71 C653.72,268.34 651.51,272.12 649.21,274.17 C646.90,276.22 642.27,277.48 639.74,277.01 C637.22,276.54 634.70,273.54 634.07,271.33 C633.44,269.13 634.92,265.50 635.96,263.76 C637.00,262.03 639.59,261.40 640.31,260.93"/>
<path d="M620.82,309.75 C622.40,309.50 627.22,309.75 630.28,308.24 C633.34,306.72 637.28,303.66 639.18,300.67 C641.07,297.67 642.02,293.26 641.64,290.26 C641.26,287.26 638.96,284.11 636.91,282.69 C634.86,281.27 631.29,280.95 629.34,281.74 C627.38,282.53 625.58,285.46 625.17,287.42 C624.76,289.38 626.59,292.47 626.88,293.48"/>
<path d="M610.79,328.11 C610.88,326.37 610.16,320.63 611.36,317.70 C612.56,314.77 615.24,311.93 617.98,310.51 C620.72,309.09 625.05,308.05 627.82,309.18 C630.60,310.32 633.37,313.85 634.63,317.32 C635.90,320.79 635.96,325.52 635.39,330.00 C634.82,334.48 633.18,339.62 631.23,344.20 C629.27,348.77 626.24,353.82 623.66,357.44 C621.07,361.07 617.92,363.81 615.71,365.96 C613.50,368.10 611.29,369.59 610.41,370.31"/>
<path d="M560.26,382.42 C562.62,381.67 569.25,379.27 574.45,377.88 C579.66,376.49 585.49,375.42 591.49,374.10 C597.48,372.77 604.73,371.29 610.41,369.93 C616.09,368.58 620.88,366.78 625.55,365.96 C630.22,365.14 634.48,363.91 638.42,365.01 C642.36,366.12 646.68,369.11 649.21,372.58 C651.73,376.05 653.65,381.48 653.56,385.83 C653.46,390.18 651.73,395.80 648.64,398.70 C645.55,401.60 638.92,403.56 635.01,403.24 C631.10,402.93 627.22,399.46 625.17,396.81 C623.12,394.16 622.59,389.87 622.71,387.34 C622.84,384.82 625.39,382.61 625.93,381.67"/>
<path d="M561.96,334.92 C562.21,335.81 563.85,338.33 563.48,340.22 C563.10,342.11 561.33,345.39 559.69,346.28 C558.05,347.16 555.53,346.78 553.64,345.52 C551.74,344.26 548.97,341.48 548.34,338.71 C547.71,335.93 548.46,331.26 549.85,328.87 C551.24,326.47 554.05,325.05 556.66,324.32 C559.28,323.60 562.66,323.72 565.56,324.51 C568.46,325.30 571.77,327.07 574.07,329.06 C576.38,331.04 578.24,333.57 579.37,336.44 C580.51,339.31 581.01,342.84 580.89,346.28 C580.76,349.72 580.07,353.88 578.62,357.06 C577.17,360.25 574.45,363.03 572.18,365.39 C569.91,367.76 567.13,369.84 564.99,371.26 C562.85,372.68 560.26,373.47 559.31,373.91"/>
<path d="M591.49,330.57 C592.59,330.63 596.37,331.83 598.11,330.95 C599.84,330.06 601.58,327.48 601.89,325.27 C602.21,323.06 601.58,319.44 600.00,317.70 C598.42,315.97 594.95,315.02 592.43,314.86 C589.91,314.70 586.85,315.33 584.86,316.75 C582.87,318.17 581.36,320.70 580.51,323.38 C579.66,326.06 579.66,329.21 579.75,332.84 C579.85,336.47 581.11,341.04 581.08,345.14 C581.04,349.24 580.26,354.07 579.56,357.44 C578.87,360.82 577.76,363.12 576.91,365.39 C576.06,367.66 574.86,370.12 574.45,371.07"/>
<path d="M535.66,363.12 C536.13,364.00 538.65,366.53 538.50,368.42 C538.34,370.31 536.60,373.47 534.71,374.48 C532.82,375.48 529.35,375.74 527.14,374.48 C524.93,373.21 522.25,370.06 521.46,366.91 C520.67,363.75 520.99,358.70 522.41,355.55 C523.83,352.40 526.82,349.56 529.98,347.98 C533.13,346.40 537.71,345.46 541.33,346.09 C544.96,346.72 548.97,348.77 551.74,351.77 C554.52,354.76 556.73,359.65 557.99,364.07 C559.25,368.48 559.47,373.37 559.31,378.26 C559.15,383.15 558.62,388.98 557.04,393.40 C555.46,397.82 553.26,401.76 549.85,404.76 C546.44,407.75 540.70,410.75 536.60,411.38 C532.50,412.01 528.15,410.59 525.25,408.54 C522.35,406.49 519.82,402.23 519.19,399.08 C518.56,395.92 519.66,391.82 521.46,389.62 C523.26,387.41 527.46,385.83 529.98,385.83 C532.50,385.83 535.66,387.57 536.60,389.62 C537.55,391.67 535.81,396.71 535.66,398.13"/>
<path d="M533.86,451.78 C534.55,452.64 536.11,456.46 538.02,456.98 C539.93,457.50 543.57,456.46 545.31,454.90 C547.04,453.34 548.78,450.39 548.43,447.61 C548.08,444.84 545.83,439.98 543.23,438.25 C540.62,436.51 536.46,435.99 532.82,437.20 C529.17,438.42 523.80,441.89 521.37,445.53 C518.94,449.17 517.72,454.73 518.25,459.06 C518.77,463.40 521.54,467.91 524.49,471.55 C527.44,475.20 531.08,478.84 535.94,480.92 C540.80,483.00 548.08,482.66 553.64,484.04 C559.19,485.43 564.20,487.04 569.25,489.25 C574.29,491.46 579.58,493.74 583.92,497.29 C588.25,500.84 592.12,505.97 595.27,510.54 C598.42,515.11 601.01,519.53 602.84,524.73 C604.67,529.94 605.71,535.77 606.25,541.77 C606.78,547.76 606.56,554.07 606.06,560.69 C605.55,567.31 603.63,575.20 603.22,581.51 C602.81,587.82 602.90,592.86 603.60,598.54 C604.29,604.22 605.30,611.06 607.38,615.57 C609.46,620.08 612.05,623.21 616.09,625.60 C620.13,628.00 626.40,629.96 631.61,629.96 C636.81,629.96 643.66,628.76 647.31,625.60 C650.97,622.45 653.40,615.89 653.56,611.03 C653.72,606.17 650.69,599.74 648.26,596.46 C645.83,593.18 641.92,591.35 638.99,591.35 C636.05,591.35 632.39,594.57 630.66,596.46 C628.93,598.35 628.93,601.66 628.58,602.70"/>
<path d="M535.94,481.96 C534.47,482.62 529.62,483.85 527.14,485.94 C524.66,488.02 522.50,491.30 521.08,494.45 C519.66,497.61 518.56,501.55 518.62,504.86 C518.69,508.17 519.89,511.90 521.46,514.32 C523.04,516.75 525.56,518.39 528.09,519.43 C530.61,520.47 533.98,520.95 536.60,520.57 C539.22,520.19 542.12,518.52 543.79,517.16 C545.47,515.81 546.13,513.79 546.63,512.43 C547.14,511.08 546.79,509.59 546.82,509.02"/>
<path d="M532.44,562.58 C531.24,562.02 527.23,561.32 525.25,559.18 C523.26,557.03 520.99,553.18 520.52,549.71 C520.04,546.24 520.67,541.20 522.41,538.36 C524.14,535.52 527.61,533.69 530.93,532.68 C534.24,531.67 538.65,531.10 542.28,532.30 C545.91,533.50 549.91,536.40 552.69,539.87 C555.46,543.34 558.08,548.33 558.93,553.12 C559.79,557.91 559.15,564.07 557.80,568.64 C556.44,573.21 553.75,577.47 550.80,580.56 C547.85,583.65 541.05,585.29 540.10,587.19 C539.16,589.08 543.97,590.18 545.12,591.92 C546.27,593.65 546.63,595.80 547.01,597.59 C547.39,599.39 547.33,601.85 547.39,602.70"/>
<path d="M576.53,593.43 C575.15,593.24 569.94,593.87 568.21,592.30 C566.47,590.72 565.43,586.55 566.13,583.97 C566.82,581.38 569.60,578.16 572.37,576.78 C575.15,575.39 579.66,574.79 582.78,575.64 C585.90,576.49 589.02,579.27 591.11,581.89 C593.19,584.50 595.10,587.69 595.27,591.35 C595.44,595.01 593.88,600.56 592.15,603.84 C590.41,607.12 588.68,607.91 584.86,611.03 C581.04,614.15 574.80,619.80 569.25,622.58 C563.70,625.35 557.28,626.99 551.55,627.69 C545.83,628.38 539.76,628.13 534.90,626.74 C530.04,625.35 525.28,622.67 522.41,619.36 C519.54,616.05 518.02,611.03 517.68,606.87 C517.33,602.70 518.67,597.50 520.33,594.38 C521.98,591.25 524.32,589.33 527.61,588.13 C530.91,586.93 538.02,587.34 540.10,587.19"/>
<path d="M602.84,580.56 C602.15,581.51 599.94,584.44 598.68,586.24 C597.42,588.04 595.84,590.50 595.27,591.35"/>
<path d="M592.15,619.36 C591.80,620.40 589.55,623.74 590.07,625.60 C590.59,627.46 593.36,630.18 595.27,630.52 C597.18,630.87 600.13,629.70 601.52,627.69 C602.90,625.67 603.94,621.35 603.60,618.41 C603.25,615.48 601.52,611.66 599.43,610.08 C597.35,608.51 593.54,608.79 591.11,608.95 C588.68,609.11 585.90,610.68 584.86,611.03"/>
<path d="M589.59,539.87 C589.75,540.82 591.01,543.82 590.54,545.55 C590.07,547.29 588.49,549.49 586.75,550.28 C585.02,551.07 582.18,551.23 580.13,550.28 C578.08,549.34 575.40,547.13 574.45,544.60 C573.51,542.08 573.35,537.98 574.45,535.14 C575.56,532.30 578.24,529.15 581.08,527.57 C583.92,525.99 588.11,525.21 591.49,525.68 C594.86,526.15 599.69,529.62 601.33,530.41"/>
<path d="M602.84,520.00 C604.73,520.47 609.78,522.68 614.20,522.84 C618.61,523.00 624.29,520.32 629.34,520.95 C634.38,521.58 640.69,523.79 644.48,526.63 C648.26,529.46 650.94,533.88 652.05,537.98 C653.15,542.08 652.68,547.92 651.10,551.23 C649.52,554.54 645.74,556.91 642.58,557.85 C639.43,558.80 634.63,557.95 632.17,556.91 C629.71,555.86 628.45,553.34 627.82,551.61 C627.19,549.87 628.29,547.35 628.39,546.50"/>
<path d="M614.20,508.65 C613.41,508.49 610.88,509.12 609.46,507.70 C608.04,506.28 605.84,502.97 605.68,500.13 C605.52,497.29 606.47,493.19 608.52,490.67 C610.57,488.14 614.76,485.94 617.98,484.99 C621.20,484.04 624.98,484.04 627.82,484.99 C630.66,485.94 633.34,487.83 635.01,490.67 C636.68,493.51 638.17,498.24 637.85,502.02 C637.54,505.81 635.80,510.54 633.12,513.38 C630.44,516.22 626.81,517.95 621.77,519.06 C616.72,520.16 605.99,519.84 602.84,520.00"/>
<path d="M542.80,411.00 L542.80,440.00 M571.30,380.00 L571.30,488.00 M599.60,376.00 L599.60,514.00 M628.30,403.00 L628.30,485.00 " stroke-width="3.2"/>
</g>
<g stroke="#111" stroke-width="1.15"><rect x="537.50" y="422.60" width="10.6" height="4.6" rx="2" fill="#d0d0d0"/><rect x="537.50" y="431.20" width="10.6" height="4.6" rx="2" fill="#c0c0c0"/><rect x="535.10" y="427.20" width="15.4" height="4" rx="2" fill="#444"/></g>
<g stroke="#111" stroke-width="1.15"><rect x="566.00" y="403.00" width="10.6" height="4.6" rx="2" fill="#d0d0d0"/><rect x="566.00" y="411.60" width="10.6" height="4.6" rx="2" fill="#c0c0c0"/><rect x="563.60" y="407.60" width="15.4" height="4" rx="2" fill="#444"/></g>
<g stroke="#111" stroke-width="1.15"><rect x="594.30" y="422.60" width="10.6" height="4.6" rx="2" fill="#d0d0d0"/><rect x="594.30" y="431.20" width="10.6" height="4.6" rx="2" fill="#c0c0c0"/><rect x="591.90" y="427.20" width="15.4" height="4" rx="2" fill="#444"/></g>
<g stroke="#111" stroke-width="1.15"><rect x="623.00" y="403.00" width="10.6" height="4.6" rx="2" fill="#d0d0d0"/><rect x="623.00" y="411.60" width="10.6" height="4.6" rx="2" fill="#c0c0c0"/><rect x="620.60" y="407.60" width="15.4" height="4" rx="2" fill="#444"/></g>
<g stroke="#111" stroke-width="1.15"><rect x="566.00" y="464.70" width="10.6" height="4.6" rx="2" fill="#d0d0d0"/><rect x="566.00" y="473.30" width="10.6" height="4.6" rx="2" fill="#c0c0c0"/><rect x="563.60" y="469.30" width="15.4" height="4" rx="2" fill="#444"/></g>
<g stroke="#111" stroke-width="1.15"><rect x="623.00" y="464.70" width="10.6" height="4.6" rx="2" fill="#d0d0d0"/><rect x="623.00" y="473.30" width="10.6" height="4.6" rx="2" fill="#c0c0c0"/><rect x="620.60" y="469.30" width="15.4" height="4" rx="2" fill="#444"/></g></g>
<g transform="translate(1384.6,0) scale(-1,1)"><g fill="none" stroke="#111" stroke-width="4.5" stroke-linecap="round">
<path d="M547.01,292.72 C547.86,291.58 549.82,287.29 552.12,285.91 C554.42,284.52 558.27,283.51 560.83,284.39 C563.38,285.28 566.13,288.11 567.45,291.21 C568.78,294.30 569.34,299.00 568.78,302.94 C568.21,306.88 566.88,311.83 564.04,314.86 C561.21,317.89 556.16,320.32 551.74,321.11 C547.33,321.90 541.96,321.42 537.55,319.59 C533.13,317.76 528.31,314.39 525.25,310.13 C522.19,305.87 519.89,299.78 519.19,294.04 C518.50,288.30 519.13,281.36 521.08,275.69 C523.04,270.01 526.60,264.17 530.93,259.98 C535.25,255.78 541.33,252.57 547.01,250.52 C552.69,248.47 559.15,247.36 564.99,247.68 C570.83,247.99 576.98,249.89 582.02,252.41 C587.07,254.93 591.64,258.72 595.27,262.82 C598.90,266.92 601.74,271.65 603.79,277.01 C605.84,282.37 606.94,288.52 607.57,294.99 C608.20,301.46 608.11,309.50 607.57,315.81 C607.04,322.12 605.93,327.48 604.35,332.84 C602.78,338.20 600.73,343.09 598.11,347.98 C595.49,352.87 591.80,358.07 588.65,362.17 C585.49,366.27 581.80,370.15 579.18,372.58 C576.57,375.01 573.98,376.05 572.94,376.75"/>
<path d="M600.95,277.96 C599.37,277.58 594.80,275.69 591.49,275.69 C588.17,275.69 583.85,276.48 581.08,277.96 C578.30,279.44 576.09,281.90 574.83,284.58 C573.57,287.26 573.10,291.21 573.51,294.04 C573.92,296.88 575.40,299.88 577.29,301.61 C579.18,303.35 582.65,304.55 584.86,304.45 C587.07,304.36 589.44,302.78 590.54,301.05 C591.64,299.31 591.71,295.94 591.49,294.04 C591.26,292.15 589.59,290.42 589.21,289.69"/>
<path d="M620.82,309.75 C619.24,308.55 613.47,305.97 611.36,302.56 C609.24,299.15 608.30,294.36 608.14,289.31 C607.98,284.27 608.45,277.64 610.41,272.28 C612.37,266.92 615.77,260.99 619.87,257.14 C623.97,253.29 630.28,249.98 635.01,249.19 C639.74,248.40 645.17,249.82 648.26,252.41 C651.35,255.00 653.40,261.08 653.56,264.71 C653.72,268.34 651.51,272.12 649.21,274.17 C646.90,276.22 642.27,277.48 639.74,277.01 C637.22,276.54 634.70,273.54 634.07,271.33 C633.44,269.13 634.92,265.50 635.96,263.76 C637.00,262.03 639.59,261.40 640.31,260.93"/>
<path d="M620.82,309.75 C622.40,309.50 627.22,309.75 630.28,308.24 C633.34,306.72 637.28,303.66 639.18,300.67 C641.07,297.67 642.02,293.26 641.64,290.26 C641.26,287.26 638.96,284.11 636.91,282.69 C634.86,281.27 631.29,280.95 629.34,281.74 C627.38,282.53 625.58,285.46 625.17,287.42 C624.76,289.38 626.59,292.47 626.88,293.48"/>
<path d="M610.79,328.11 C610.88,326.37 610.16,320.63 611.36,317.70 C612.56,314.77 615.24,311.93 617.98,310.51 C620.72,309.09 625.05,308.05 627.82,309.18 C630.60,310.32 633.37,313.85 634.63,317.32 C635.90,320.79 635.96,325.52 635.39,330.00 C634.82,334.48 633.18,339.62 631.23,344.20 C629.27,348.77 626.24,353.82 623.66,357.44 C621.07,361.07 617.92,363.81 615.71,365.96 C613.50,368.10 611.29,369.59 610.41,370.31"/>
<path d="M560.26,382.42 C562.62,381.67 569.25,379.27 574.45,377.88 C579.66,376.49 585.49,375.42 591.49,374.10 C597.48,372.77 604.73,371.29 610.41,369.93 C616.09,368.58 620.88,366.78 625.55,365.96 C630.22,365.14 634.48,363.91 638.42,365.01 C642.36,366.12 646.68,369.11 649.21,372.58 C651.73,376.05 653.65,381.48 653.56,385.83 C653.46,390.18 651.73,395.80 648.64,398.70 C645.55,401.60 638.92,403.56 635.01,403.24 C631.10,402.93 627.22,399.46 625.17,396.81 C623.12,394.16 622.59,389.87 622.71,387.34 C622.84,384.82 625.39,382.61 625.93,381.67"/>
<path d="M561.96,334.92 C562.21,335.81 563.85,338.33 563.48,340.22 C563.10,342.11 561.33,345.39 559.69,346.28 C558.05,347.16 555.53,346.78 553.64,345.52 C551.74,344.26 548.97,341.48 548.34,338.71 C547.71,335.93 548.46,331.26 549.85,328.87 C551.24,326.47 554.05,325.05 556.66,324.32 C559.28,323.60 562.66,323.72 565.56,324.51 C568.46,325.30 571.77,327.07 574.07,329.06 C576.38,331.04 578.24,333.57 579.37,336.44 C580.51,339.31 581.01,342.84 580.89,346.28 C580.76,349.72 580.07,353.88 578.62,357.06 C577.17,360.25 574.45,363.03 572.18,365.39 C569.91,367.76 567.13,369.84 564.99,371.26 C562.85,372.68 560.26,373.47 559.31,373.91"/>
<path d="M591.49,330.57 C592.59,330.63 596.37,331.83 598.11,330.95 C599.84,330.06 601.58,327.48 601.89,325.27 C602.21,323.06 601.58,319.44 600.00,317.70 C598.42,315.97 594.95,315.02 592.43,314.86 C589.91,314.70 586.85,315.33 584.86,316.75 C582.87,318.17 581.36,320.70 580.51,323.38 C579.66,326.06 579.66,329.21 579.75,332.84 C579.85,336.47 581.11,341.04 581.08,345.14 C581.04,349.24 580.26,354.07 579.56,357.44 C578.87,360.82 577.76,363.12 576.91,365.39 C576.06,367.66 574.86,370.12 574.45,371.07"/>
<path d="M535.66,363.12 C536.13,364.00 538.65,366.53 538.50,368.42 C538.34,370.31 536.60,373.47 534.71,374.48 C532.82,375.48 529.35,375.74 527.14,374.48 C524.93,373.21 522.25,370.06 521.46,366.91 C520.67,363.75 520.99,358.70 522.41,355.55 C523.83,352.40 526.82,349.56 529.98,347.98 C533.13,346.40 537.71,345.46 541.33,346.09 C544.96,346.72 548.97,348.77 551.74,351.77 C554.52,354.76 556.73,359.65 557.99,364.07 C559.25,368.48 559.47,373.37 559.31,378.26 C559.15,383.15 558.62,388.98 557.04,393.40 C555.46,397.82 553.26,401.76 549.85,404.76 C546.44,407.75 540.70,410.75 536.60,411.38 C532.50,412.01 528.15,410.59 525.25,408.54 C522.35,406.49 519.82,402.23 519.19,399.08 C518.56,395.92 519.66,391.82 521.46,389.62 C523.26,387.41 527.46,385.83 529.98,385.83 C532.50,385.83 535.66,387.57 536.60,389.62 C537.55,391.67 535.81,396.71 535.66,398.13"/>
<path d="M533.86,451.78 C534.55,452.64 536.11,456.46 538.02,456.98 C539.93,457.50 543.57,456.46 545.31,454.90 C547.04,453.34 548.78,450.39 548.43,447.61 C548.08,444.84 545.83,439.98 543.23,438.25 C540.62,436.51 536.46,435.99 532.82,437.20 C529.17,438.42 523.80,441.89 521.37,445.53 C518.94,449.17 517.72,454.73 518.25,459.06 C518.77,463.40 521.54,467.91 524.49,471.55 C527.44,475.20 531.08,478.84 535.94,480.92 C540.80,483.00 548.08,482.66 553.64,484.04 C559.19,485.43 564.20,487.04 569.25,489.25 C574.29,491.46 579.58,493.74 583.92,497.29 C588.25,500.84 592.12,505.97 595.27,510.54 C598.42,515.11 601.01,519.53 602.84,524.73 C604.67,529.94 605.71,535.77 606.25,541.77 C606.78,547.76 606.56,554.07 606.06,560.69 C605.55,567.31 603.63,575.20 603.22,581.51 C602.81,587.82 602.90,592.86 603.60,598.54 C604.29,604.22 605.30,611.06 607.38,615.57 C609.46,620.08 612.05,623.21 616.09,625.60 C620.13,628.00 626.40,629.96 631.61,629.96 C636.81,629.96 643.66,628.76 647.31,625.60 C650.97,622.45 653.40,615.89 653.56,611.03 C653.72,606.17 650.69,599.74 648.26,596.46 C645.83,593.18 641.92,591.35 638.99,591.35 C636.05,591.35 632.39,594.57 630.66,596.46 C628.93,598.35 628.93,601.66 628.58,602.70"/>
<path d="M535.94,481.96 C534.47,482.62 529.62,483.85 527.14,485.94 C524.66,488.02 522.50,491.30 521.08,494.45 C519.66,497.61 518.56,501.55 518.62,504.86 C518.69,508.17 519.89,511.90 521.46,514.32 C523.04,516.75 525.56,518.39 528.09,519.43 C530.61,520.47 533.98,520.95 536.60,520.57 C539.22,520.19 542.12,518.52 543.79,517.16 C545.47,515.81 546.13,513.79 546.63,512.43 C547.14,511.08 546.79,509.59 546.82,509.02"/>
<path d="M532.44,562.58 C531.24,562.02 527.23,561.32 525.25,559.18 C523.26,557.03 520.99,553.18 520.52,549.71 C520.04,546.24 520.67,541.20 522.41,538.36 C524.14,535.52 527.61,533.69 530.93,532.68 C534.24,531.67 538.65,531.10 542.28,532.30 C545.91,533.50 549.91,536.40 552.69,539.87 C555.46,543.34 558.08,548.33 558.93,553.12 C559.79,557.91 559.15,564.07 557.80,568.64 C556.44,573.21 553.75,577.47 550.80,580.56 C547.85,583.65 541.05,585.29 540.10,587.19 C539.16,589.08 543.97,590.18 545.12,591.92 C546.27,593.65 546.63,595.80 547.01,597.59 C547.39,599.39 547.33,601.85 547.39,602.70"/>
<path d="M576.53,593.43 C575.15,593.24 569.94,593.87 568.21,592.30 C566.47,590.72 565.43,586.55 566.13,583.97 C566.82,581.38 569.60,578.16 572.37,576.78 C575.15,575.39 579.66,574.79 582.78,575.64 C585.90,576.49 589.02,579.27 591.11,581.89 C593.19,584.50 595.10,587.69 595.27,591.35 C595.44,595.01 593.88,600.56 592.15,603.84 C590.41,607.12 588.68,607.91 584.86,611.03 C581.04,614.15 574.80,619.80 569.25,622.58 C563.70,625.35 557.28,626.99 551.55,627.69 C545.83,628.38 539.76,628.13 534.90,626.74 C530.04,625.35 525.28,622.67 522.41,619.36 C519.54,616.05 518.02,611.03 517.68,606.87 C517.33,602.70 518.67,597.50 520.33,594.38 C521.98,591.25 524.32,589.33 527.61,588.13 C530.91,586.93 538.02,587.34 540.10,587.19"/>
<path d="M602.84,580.56 C602.15,581.51 599.94,584.44 598.68,586.24 C597.42,588.04 595.84,590.50 595.27,591.35"/>
<path d="M592.15,619.36 C591.80,620.40 589.55,623.74 590.07,625.60 C590.59,627.46 593.36,630.18 595.27,630.52 C597.18,630.87 600.13,629.70 601.52,627.69 C602.90,625.67 603.94,621.35 603.60,618.41 C603.25,615.48 601.52,611.66 599.43,610.08 C597.35,608.51 593.54,608.79 591.11,608.95 C588.68,609.11 585.90,610.68 584.86,611.03"/>
<path d="M589.59,539.87 C589.75,540.82 591.01,543.82 590.54,545.55 C590.07,547.29 588.49,549.49 586.75,550.28 C585.02,551.07 582.18,551.23 580.13,550.28 C578.08,549.34 575.40,547.13 574.45,544.60 C573.51,542.08 573.35,537.98 574.45,535.14 C575.56,532.30 578.24,529.15 581.08,527.57 C583.92,525.99 588.11,525.21 591.49,525.68 C594.86,526.15 599.69,529.62 601.33,530.41"/>
<path d="M602.84,520.00 C604.73,520.47 609.78,522.68 614.20,522.84 C618.61,523.00 624.29,520.32 629.34,520.95 C634.38,521.58 640.69,523.79 644.48,526.63 C648.26,529.46 650.94,533.88 652.05,537.98 C653.15,542.08 652.68,547.92 651.10,551.23 C649.52,554.54 645.74,556.91 642.58,557.85 C639.43,558.80 634.63,557.95 632.17,556.91 C629.71,555.86 628.45,553.34 627.82,551.61 C627.19,549.87 628.29,547.35 628.39,546.50"/>
<path d="M614.20,508.65 C613.41,508.49 610.88,509.12 609.46,507.70 C608.04,506.28 605.84,502.97 605.68,500.13 C605.52,497.29 606.47,493.19 608.52,490.67 C610.57,488.14 614.76,485.94 617.98,484.99 C621.20,484.04 624.98,484.04 627.82,484.99 C630.66,485.94 633.34,487.83 635.01,490.67 C636.68,493.51 638.17,498.24 637.85,502.02 C637.54,505.81 635.80,510.54 633.12,513.38 C630.44,516.22 626.81,517.95 621.77,519.06 C616.72,520.16 605.99,519.84 602.84,520.00"/>
<path d="M542.80,411.00 L542.80,440.00 M571.30,380.00 L571.30,488.00 M599.60,376.00 L599.60,514.00 M628.30,403.00 L628.30,485.00 " stroke-width="5.6"/>
</g>
<g fill="none" stroke="#fff" stroke-width="2.1" stroke-linecap="butt">
<path d="M547.01,292.72 C547.86,291.58 549.82,287.29 552.12,285.91 C554.42,284.52 558.27,283.51 560.83,284.39 C563.38,285.28 566.13,288.11 567.45,291.21 C568.78,294.30 569.34,299.00 568.78,302.94 C568.21,306.88 566.88,311.83 564.04,314.86 C561.21,317.89 556.16,320.32 551.74,321.11 C547.33,321.90 541.96,321.42 537.55,319.59 C533.13,317.76 528.31,314.39 525.25,310.13 C522.19,305.87 519.89,299.78 519.19,294.04 C518.50,288.30 519.13,281.36 521.08,275.69 C523.04,270.01 526.60,264.17 530.93,259.98 C535.25,255.78 541.33,252.57 547.01,250.52 C552.69,248.47 559.15,247.36 564.99,247.68 C570.83,247.99 576.98,249.89 582.02,252.41 C587.07,254.93 591.64,258.72 595.27,262.82 C598.90,266.92 601.74,271.65 603.79,277.01 C605.84,282.37 606.94,288.52 607.57,294.99 C608.20,301.46 608.11,309.50 607.57,315.81 C607.04,322.12 605.93,327.48 604.35,332.84 C602.78,338.20 600.73,343.09 598.11,347.98 C595.49,352.87 591.80,358.07 588.65,362.17 C585.49,366.27 581.80,370.15 579.18,372.58 C576.57,375.01 573.98,376.05 572.94,376.75"/>
<path d="M600.95,277.96 C599.37,277.58 594.80,275.69 591.49,275.69 C588.17,275.69 583.85,276.48 581.08,277.96 C578.30,279.44 576.09,281.90 574.83,284.58 C573.57,287.26 573.10,291.21 573.51,294.04 C573.92,296.88 575.40,299.88 577.29,301.61 C579.18,303.35 582.65,304.55 584.86,304.45 C587.07,304.36 589.44,302.78 590.54,301.05 C591.64,299.31 591.71,295.94 591.49,294.04 C591.26,292.15 589.59,290.42 589.21,289.69"/>
<path d="M620.82,309.75 C619.24,308.55 613.47,305.97 611.36,302.56 C609.24,299.15 608.30,294.36 608.14,289.31 C607.98,284.27 608.45,277.64 610.41,272.28 C612.37,266.92 615.77,260.99 619.87,257.14 C623.97,253.29 630.28,249.98 635.01,249.19 C639.74,248.40 645.17,249.82 648.26,252.41 C651.35,255.00 653.40,261.08 653.56,264.71 C653.72,268.34 651.51,272.12 649.21,274.17 C646.90,276.22 642.27,277.48 639.74,277.01 C637.22,276.54 634.70,273.54 634.07,271.33 C633.44,269.13 634.92,265.50 635.96,263.76 C637.00,262.03 639.59,261.40 640.31,260.93"/>
<path d="M620.82,309.75 C622.40,309.50 627.22,309.75 630.28,308.24 C633.34,306.72 637.28,303.66 639.18,300.67 C641.07,297.67 642.02,293.26 641.64,290.26 C641.26,287.26 638.96,284.11 636.91,282.69 C634.86,281.27 631.29,280.95 629.34,281.74 C627.38,282.53 625.58,285.46 625.17,287.42 C624.76,289.38 626.59,292.47 626.88,293.48"/>
<path d="M610.79,328.11 C610.88,326.37 610.16,320.63 611.36,317.70 C612.56,314.77 615.24,311.93 617.98,310.51 C620.72,309.09 625.05,308.05 627.82,309.18 C630.60,310.32 633.37,313.85 634.63,317.32 C635.90,320.79 635.96,325.52 635.39,330.00 C634.82,334.48 633.18,339.62 631.23,344.20 C629.27,348.77 626.24,353.82 623.66,357.44 C621.07,361.07 617.92,363.81 615.71,365.96 C613.50,368.10 611.29,369.59 610.41,370.31"/>
<path d="M560.26,382.42 C562.62,381.67 569.25,379.27 574.45,377.88 C579.66,376.49 585.49,375.42 591.49,374.10 C597.48,372.77 604.73,371.29 610.41,369.93 C616.09,368.58 620.88,366.78 625.55,365.96 C630.22,365.14 634.48,363.91 638.42,365.01 C642.36,366.12 646.68,369.11 649.21,372.58 C651.73,376.05 653.65,381.48 653.56,385.83 C653.46,390.18 651.73,395.80 648.64,398.70 C645.55,401.60 638.92,403.56 635.01,403.24 C631.10,402.93 627.22,399.46 625.17,396.81 C623.12,394.16 622.59,389.87 622.71,387.34 C622.84,384.82 625.39,382.61 625.93,381.67"/>
<path d="M561.96,334.92 C562.21,335.81 563.85,338.33 563.48,340.22 C563.10,342.11 561.33,345.39 559.69,346.28 C558.05,347.16 555.53,346.78 553.64,345.52 C551.74,344.26 548.97,341.48 548.34,338.71 C547.71,335.93 548.46,331.26 549.85,328.87 C551.24,326.47 554.05,325.05 556.66,324.32 C559.28,323.60 562.66,323.72 565.56,324.51 C568.46,325.30 571.77,327.07 574.07,329.06 C576.38,331.04 578.24,333.57 579.37,336.44 C580.51,339.31 581.01,342.84 580.89,346.28 C580.76,349.72 580.07,353.88 578.62,357.06 C577.17,360.25 574.45,363.03 572.18,365.39 C569.91,367.76 567.13,369.84 564.99,371.26 C562.85,372.68 560.26,373.47 559.31,373.91"/>
<path d="M591.49,330.57 C592.59,330.63 596.37,331.83 598.11,330.95 C599.84,330.06 601.58,327.48 601.89,325.27 C602.21,323.06 601.58,319.44 600.00,317.70 C598.42,315.97 594.95,315.02 592.43,314.86 C589.91,314.70 586.85,315.33 584.86,316.75 C582.87,318.17 581.36,320.70 580.51,323.38 C579.66,326.06 579.66,329.21 579.75,332.84 C579.85,336.47 581.11,341.04 581.08,345.14 C581.04,349.24 580.26,354.07 579.56,357.44 C578.87,360.82 577.76,363.12 576.91,365.39 C576.06,367.66 574.86,370.12 574.45,371.07"/>
<path d="M535.66,363.12 C536.13,364.00 538.65,366.53 538.50,368.42 C538.34,370.31 536.60,373.47 534.71,374.48 C532.82,375.48 529.35,375.74 527.14,374.48 C524.93,373.21 522.25,370.06 521.46,366.91 C520.67,363.75 520.99,358.70 522.41,355.55 C523.83,352.40 526.82,349.56 529.98,347.98 C533.13,346.40 537.71,345.46 541.33,346.09 C544.96,346.72 548.97,348.77 551.74,351.77 C554.52,354.76 556.73,359.65 557.99,364.07 C559.25,368.48 559.47,373.37 559.31,378.26 C559.15,383.15 558.62,388.98 557.04,393.40 C555.46,397.82 553.26,401.76 549.85,404.76 C546.44,407.75 540.70,410.75 536.60,411.38 C532.50,412.01 528.15,410.59 525.25,408.54 C522.35,406.49 519.82,402.23 519.19,399.08 C518.56,395.92 519.66,391.82 521.46,389.62 C523.26,387.41 527.46,385.83 529.98,385.83 C532.50,385.83 535.66,387.57 536.60,389.62 C537.55,391.67 535.81,396.71 535.66,398.13"/>
<path d="M533.86,451.78 C534.55,452.64 536.11,456.46 538.02,456.98 C539.93,457.50 543.57,456.46 545.31,454.90 C547.04,453.34 548.78,450.39 548.43,447.61 C548.08,444.84 545.83,439.98 543.23,438.25 C540.62,436.51 536.46,435.99 532.82,437.20 C529.17,438.42 523.80,441.89 521.37,445.53 C518.94,449.17 517.72,454.73 518.25,459.06 C518.77,463.40 521.54,467.91 524.49,471.55 C527.44,475.20 531.08,478.84 535.94,480.92 C540.80,483.00 548.08,482.66 553.64,484.04 C559.19,485.43 564.20,487.04 569.25,489.25 C574.29,491.46 579.58,493.74 583.92,497.29 C588.25,500.84 592.12,505.97 595.27,510.54 C598.42,515.11 601.01,519.53 602.84,524.73 C604.67,529.94 605.71,535.77 606.25,541.77 C606.78,547.76 606.56,554.07 606.06,560.69 C605.55,567.31 603.63,575.20 603.22,581.51 C602.81,587.82 602.90,592.86 603.60,598.54 C604.29,604.22 605.30,611.06 607.38,615.57 C609.46,620.08 612.05,623.21 616.09,625.60 C620.13,628.00 626.40,629.96 631.61,629.96 C636.81,629.96 643.66,628.76 647.31,625.60 C650.97,622.45 653.40,615.89 653.56,611.03 C653.72,606.17 650.69,599.74 648.26,596.46 C645.83,593.18 641.92,591.35 638.99,591.35 C636.05,591.35 632.39,594.57 630.66,596.46 C628.93,598.35 628.93,601.66 628.58,602.70"/>
<path d="M535.94,481.96 C534.47,482.62 529.62,483.85 527.14,485.94 C524.66,488.02 522.50,491.30 521.08,494.45 C519.66,497.61 518.56,501.55 518.62,504.86 C518.69,508.17 519.89,511.90 521.46,514.32 C523.04,516.75 525.56,518.39 528.09,519.43 C530.61,520.47 533.98,520.95 536.60,520.57 C539.22,520.19 542.12,518.52 543.79,517.16 C545.47,515.81 546.13,513.79 546.63,512.43 C547.14,511.08 546.79,509.59 546.82,509.02"/>
<path d="M532.44,562.58 C531.24,562.02 527.23,561.32 525.25,559.18 C523.26,557.03 520.99,553.18 520.52,549.71 C520.04,546.24 520.67,541.20 522.41,538.36 C524.14,535.52 527.61,533.69 530.93,532.68 C534.24,531.67 538.65,531.10 542.28,532.30 C545.91,533.50 549.91,536.40 552.69,539.87 C555.46,543.34 558.08,548.33 558.93,553.12 C559.79,557.91 559.15,564.07 557.80,568.64 C556.44,573.21 553.75,577.47 550.80,580.56 C547.85,583.65 541.05,585.29 540.10,587.19 C539.16,589.08 543.97,590.18 545.12,591.92 C546.27,593.65 546.63,595.80 547.01,597.59 C547.39,599.39 547.33,601.85 547.39,602.70"/>
<path d="M576.53,593.43 C575.15,593.24 569.94,593.87 568.21,592.30 C566.47,590.72 565.43,586.55 566.13,583.97 C566.82,581.38 569.60,578.16 572.37,576.78 C575.15,575.39 579.66,574.79 582.78,575.64 C585.90,576.49 589.02,579.27 591.11,581.89 C593.19,584.50 595.10,587.69 595.27,591.35 C595.44,595.01 593.88,600.56 592.15,603.84 C590.41,607.12 588.68,607.91 584.86,611.03 C581.04,614.15 574.80,619.80 569.25,622.58 C563.70,625.35 557.28,626.99 551.55,627.69 C545.83,628.38 539.76,628.13 534.90,626.74 C530.04,625.35 525.28,622.67 522.41,619.36 C519.54,616.05 518.02,611.03 517.68,606.87 C517.33,602.70 518.67,597.50 520.33,594.38 C521.98,591.25 524.32,589.33 527.61,588.13 C530.91,586.93 538.02,587.34 540.10,587.19"/>
<path d="M602.84,580.56 C602.15,581.51 599.94,584.44 598.68,586.24 C597.42,588.04 595.84,590.50 595.27,591.35"/>
<path d="M592.15,619.36 C591.80,620.40 589.55,623.74 590.07,625.60 C590.59,627.46 593.36,630.18 595.27,630.52 C597.18,630.87 600.13,629.70 601.52,627.69 C602.90,625.67 603.94,621.35 603.60,618.41 C603.25,615.48 601.52,611.66 599.43,610.08 C597.35,608.51 593.54,608.79 591.11,608.95 C588.68,609.11 585.90,610.68 584.86,611.03"/>
<path d="M589.59,539.87 C589.75,540.82 591.01,543.82 590.54,545.55 C590.07,547.29 588.49,549.49 586.75,550.28 C585.02,551.07 582.18,551.23 580.13,550.28 C578.08,549.34 575.40,547.13 574.45,544.60 C573.51,542.08 573.35,537.98 574.45,535.14 C575.56,532.30 578.24,529.15 581.08,527.57 C583.92,525.99 588.11,525.21 591.49,525.68 C594.86,526.15 599.69,529.62 601.33,530.41"/>
<path d="M602.84,520.00 C604.73,520.47 609.78,522.68 614.20,522.84 C618.61,523.00 624.29,520.32 629.34,520.95 C634.38,521.58 640.69,523.79 644.48,526.63 C648.26,529.46 650.94,533.88 652.05,537.98 C653.15,542.08 652.68,547.92 651.10,551.23 C649.52,554.54 645.74,556.91 642.58,557.85 C639.43,558.80 634.63,557.95 632.17,556.91 C629.71,555.86 628.45,553.34 627.82,551.61 C627.19,549.87 628.29,547.35 628.39,546.50"/>
<path d="M614.20,508.65 C613.41,508.49 610.88,509.12 609.46,507.70 C608.04,506.28 605.84,502.97 605.68,500.13 C605.52,497.29 606.47,493.19 608.52,490.67 C610.57,488.14 614.76,485.94 617.98,484.99 C621.20,484.04 624.98,484.04 627.82,484.99 C630.66,485.94 633.34,487.83 635.01,490.67 C636.68,493.51 638.17,498.24 637.85,502.02 C637.54,505.81 635.80,510.54 633.12,513.38 C630.44,516.22 626.81,517.95 621.77,519.06 C616.72,520.16 605.99,519.84 602.84,520.00"/>
<path d="M542.80,411.00 L542.80,440.00 M571.30,380.00 L571.30,488.00 M599.60,376.00 L599.60,514.00 M628.30,403.00 L628.30,485.00 " stroke-width="3.2"/>
</g>
<g stroke="#111" stroke-width="1.15"><rect x="537.50" y="422.60" width="10.6" height="4.6" rx="2" fill="#d0d0d0"/><rect x="537.50" y="431.20" width="10.6" height="4.6" rx="2" fill="#c0c0c0"/><rect x="535.10" y="427.20" width="15.4" height="4" rx="2" fill="#444"/></g>
<g stroke="#111" stroke-width="1.15"><rect x="566.00" y="403.00" width="10.6" height="4.6" rx="2" fill="#d0d0d0"/><rect x="566.00" y="411.60" width="10.6" height="4.6" rx="2" fill="#c0c0c0"/><rect x="563.60" y="407.60" width="15.4" height="4" rx="2" fill="#444"/></g>
<g stroke="#111" stroke-width="1.15"><rect x="594.30" y="422.60" width="10.6" height="4.6" rx="2" fill="#d0d0d0"/><rect x="594.30" y="431.20" width="10.6" height="4.6" rx="2" fill="#c0c0c0"/><rect x="591.90" y="427.20" width="15.4" height="4" rx="2" fill="#444"/></g>
<g stroke="#111" stroke-width="1.15"><rect x="623.00" y="403.00" width="10.6" height="4.6" rx="2" fill="#d0d0d0"/><rect x="623.00" y="411.60" width="10.6" height="4.6" rx="2" fill="#c0c0c0"/><rect x="620.60" y="407.60" width="15.4" height="4" rx="2" fill="#444"/></g>
<g stroke="#111" stroke-width="1.15"><rect x="566.00" y="464.70" width="10.6" height="4.6" rx="2" fill="#d0d0d0"/><rect x="566.00" y="473.30" width="10.6" height="4.6" rx="2" fill="#c0c0c0"/><rect x="563.60" y="469.30" width="15.4" height="4" rx="2" fill="#444"/></g>
<g stroke="#111" stroke-width="1.15"><rect x="623.00" y="464.70" width="10.6" height="4.6" rx="2" fill="#d0d0d0"/><rect x="623.00" y="473.30" width="10.6" height="4.6" rx="2" fill="#c0c0c0"/><rect x="620.60" y="469.30" width="15.4" height="4" rx="2" fill="#444"/></g></g>
<rect x="475.9" y="233.4" width="6.6" height="24.8" stroke="#111" stroke-width="0.9" fill="#bbb" rx="1.5" />
<rect x="478.9" y="241.4" width="5.3" height="16.8" stroke="#111" stroke-width="0.9" fill="#eee" rx="0" />
<rect x="902.1" y="233.4" width="6.6" height="24.8" stroke="#111" stroke-width="0.9" fill="#bbb" rx="1.5" />
<rect x="900.4" y="241.4" width="5.3" height="16.8" stroke="#111" stroke-width="0.9" fill="#eee" rx="0" />
<rect x="475.9" y="482.4" width="6.6" height="24.8" stroke="#111" stroke-width="0.9" fill="#bbb" rx="1.5" />
<rect x="478.9" y="490.4" width="5.3" height="16.8" stroke="#111" stroke-width="0.9" fill="#eee" rx="0" />
<rect x="902.1" y="482.4" width="6.6" height="24.8" stroke="#111" stroke-width="0.9" fill="#bbb" rx="1.5" />
<rect x="900.4" y="490.4" width="5.3" height="16.8" stroke="#111" stroke-width="0.9" fill="#eee" rx="0" />
<rect x="475.9" y="732.0" width="6.6" height="24.8" stroke="#111" stroke-width="0.9" fill="#bbb" rx="1.5" />
<rect x="478.9" y="740.0" width="5.3" height="16.8" stroke="#111" stroke-width="0.9" fill="#eee" rx="0" />
<rect x="902.1" y="732.0" width="6.6" height="24.8" stroke="#111" stroke-width="0.9" fill="#bbb" rx="1.5" />
<rect x="900.4" y="740.0" width="5.3" height="16.8" stroke="#111" stroke-width="0.9" fill="#eee" rx="0" />
<path d="M440,244.70000000000002 L468,244.70000000000002 L471,243.70000000000002 L471,248.9 L468,247.9 L440,247.9 Q437,246.3 440,244.70000000000002Z" fill="#111"/>
<line x1="452.0" y1="246.3" x2="466.0" y2="246.3" stroke="#ddd" stroke-width="0.8" />
<path d="M944.5999999999999,244.70000000000002 L916.5999999999999,244.70000000000002 L913.5999999999999,243.70000000000002 L913.5999999999999,248.9 L916.5999999999999,247.9 L944.5999999999999,247.9 Q947.5999999999999,246.3 944.5999999999999,244.70000000000002Z" fill="#111"/>
<line x1="932.6" y1="246.3" x2="918.6" y2="246.3" stroke="#ddd" stroke-width="0.8" />
<path d="M440,493.4 L468,493.4 L471,492.4 L471,497.6 L468,496.6 L440,496.6 Q437,495 440,493.4Z" fill="#111"/>
<line x1="452.0" y1="495.0" x2="466.0" y2="495.0" stroke="#ddd" stroke-width="0.8" />
<path d="M944.5999999999999,493.4 L916.5999999999999,493.4 L913.5999999999999,492.4 L913.5999999999999,497.6 L916.5999999999999,496.6 L944.5999999999999,496.6 Q947.5999999999999,495 944.5999999999999,493.4Z" fill="#111"/>
<line x1="932.6" y1="495.0" x2="918.6" y2="495.0" stroke="#ddd" stroke-width="0.8" />
<path d="M440,743.0 L468,743.0 L471,742.0 L471,747.2 L468,746.2 L440,746.2 Q437,744.6 440,743.0Z" fill="#111"/>
<line x1="452.0" y1="744.6" x2="466.0" y2="744.6" stroke="#ddd" stroke-width="0.8" />
<path d="M944.5999999999999,743.0 L916.5999999999999,743.0 L913.5999999999999,742.0 L913.5999999999999,747.2 L916.5999999999999,746.2 L944.5999999999999,746.2 Q947.5999999999999,744.6 944.5999999999999,743.0Z" fill="#111"/>
<line x1="932.6" y1="744.6" x2="918.6" y2="744.6" stroke="#ddd" stroke-width="0.8" />
<rect x="514.8" y="276.0" width="3.8" height="14.0" stroke="#111" stroke-width="0.8" fill="#e8e8e8" rx="0" />
<rect x="866.0" y="276.0" width="3.8" height="14.0" stroke="#111" stroke-width="0.8" fill="#e8e8e8" rx="0" />
<rect x="514.8" y="431.5" width="3.8" height="14.0" stroke="#111" stroke-width="0.8" fill="#e8e8e8" rx="0" />
<rect x="866.0" y="431.5" width="3.8" height="14.0" stroke="#111" stroke-width="0.8" fill="#e8e8e8" rx="0" />
<rect x="514.8" y="587.0" width="3.8" height="14.0" stroke="#111" stroke-width="0.8" fill="#e8e8e8" rx="0" />
<rect x="866.0" y="587.0" width="3.8" height="14.0" stroke="#111" stroke-width="0.8" fill="#e8e8e8" rx="0" />
<rect x="484.7" y="583.0" width="4.3" height="13.7" stroke="#111" stroke-width="0.8" fill="#eee" rx="0" />
<line x1="685.8" y1="211.0" x2="685.8" y2="337.0" stroke="#111" stroke-width="1.6" />
<rect x="684.0" y="201.5" width="3.7" height="9.4" stroke="#111" stroke-width="1" fill="#fff" rx="1" />
<path d="M688,323 L692,323 L692,371 L688,371 Z" fill="#111"/>
<rect x="684.2" y="346.0" width="3.3" height="6.0" stroke="#111" stroke-width="0.9" fill="#fff" rx="0" />
<rect x="684.2" y="338.0" width="3.3" height="5.0" stroke="#111" stroke-width="0.9" fill="#fff" rx="0" />
<line x1="685.8" y1="717.0" x2="685.8" y2="780.0" stroke="#111" stroke-width="1.6" />
<rect x="684.0" y="779.2" width="3.5" height="9.1" stroke="#111" stroke-width="1" fill="#fff" rx="0" />
<path d="M688,683 L692,683 L692,731 L688,731 Z" fill="#111"/>
<rect x="684.2" y="702.0" width="3.3" height="5.3" stroke="#111" stroke-width="0.9" fill="#fff" rx="0" />
<rect x="684.2" y="710.0" width="3.3" height="5.0" stroke="#111" stroke-width="0.9" fill="#fff" rx="0" />
<rect x="692.0" y="527.3" width="6.6" height="11.9" stroke="#111" stroke-width="0.9" fill="#fff" rx="0" />
<circle cx="691.5" cy="537" r="1.6" fill="#111"/>
<circle cx="709.6" cy="495.5" r="6.9" fill="none" stroke="#111" stroke-width="1.3"/>
<line x1="710.6" y1="452.0" x2="710.6" y2="488.6" stroke="#111" stroke-width="1.2" />
<line x1="692.5" y1="452.0" x2="692.5" y2="503.5" stroke="#111" stroke-width="2" />
<line x1="468.6" y1="154.8" x2="468.6" y2="195.3" stroke="#111" stroke-width="1.2" />
<line x1="916.0" y1="154.8" x2="916.0" y2="195.3" stroke="#111" stroke-width="1.2" />
<line x1="468.6" y1="160.9" x2="676.0" y2="160.9" stroke="#111" stroke-width="1.2" />
<line x1="707.0" y1="160.9" x2="916.0" y2="160.9" stroke="#111" stroke-width="1.2" />
<path d="M468.60,160.90 L479.60,159.10 L479.60,162.70 Z" fill="#111"/>
<path d="M916.00,160.90 L905.00,159.10 L905.00,162.70 Z" fill="#111"/>
<text x="691.8" y="168.3" font-size="20.5" text-anchor="middle" >72"</text>
<line x1="920.0" y1="198.5" x2="987.0" y2="198.5" stroke="#111" stroke-width="1.2" />
<line x1="920.0" y1="794.2" x2="987.0" y2="794.2" stroke="#111" stroke-width="1.2" />
<line x1="981.2" y1="198.5" x2="981.2" y2="494.0" stroke="#111" stroke-width="1.2" />
<line x1="981.2" y1="530.0" x2="981.2" y2="794.2" stroke="#111" stroke-width="1.2" />
<path d="M981.20,198.50 L979.40,209.50 L983.00,209.50 Z" fill="#111"/>
<path d="M981.20,794.20 L979.40,783.20 L983.00,783.20 Z" fill="#111"/>
<text transform="translate(989.5,512) rotate(-90)" font-size="20.5" text-anchor="middle">96"</text>
<line x1="913.0" y1="496.6" x2="965.0" y2="496.6" stroke="#111" stroke-width="1.2" />
<line x1="959.2" y1="496.6" x2="959.2" y2="582.0" stroke="#111" stroke-width="1.2" />
<line x1="959.2" y1="706.0" x2="959.2" y2="794.2" stroke="#111" stroke-width="1.2" />
<path d="M959.20,496.60 L957.50,506.60 L960.90,506.60 Z" fill="#111"/>
<path d="M959.20,794.20 L957.50,784.20 L960.90,784.20 Z" fill="#111"/>
<text transform="translate(967.3,643) rotate(-90)" font-size="21.5" text-anchor="middle">48" Deadbolt</text>
<line x1="918.7" y1="521.2" x2="943.0" y2="521.2" stroke="#111" stroke-width="1.2" />
<line x1="937.7" y1="521.2" x2="937.7" y2="622.0" stroke="#111" stroke-width="1.2" />
<line x1="937.7" y1="693.0" x2="937.7" y2="794.2" stroke="#111" stroke-width="1.2" />
<path d="M937.70,521.20 L936.00,531.20 L939.40,531.20 Z" fill="#111"/>
<path d="M937.70,794.20 L936.00,784.20 L939.40,784.20 Z" fill="#111"/>
<text transform="translate(945.8,658) rotate(-90)" font-size="21.5" text-anchor="middle">44"Pull</text>
<line x1="667.9" y1="458.8" x2="692.0" y2="458.8" stroke="#111" stroke-width="1.2" />
<path d="M692.00,458.80 L683.00,457.20 L683.00,460.40 Z" fill="#111"/>
<line x1="710.6" y1="458.8" x2="928.5" y2="458.8" stroke="#111" stroke-width="1.2" />
<path d="M710.60,458.80 L719.60,457.20 L719.60,460.40 Z" fill="#111"/>
<text x="930.6" y="455.9" font-size="18.6" >2</text>
<text x="940.2" y="449.6" font-size="18.6" >3</text>
<line x1="944.1" y1="459.8" x2="958.6" y2="438.5" stroke="#111" stroke-width="1.4" />
<text x="952.7" y="461.8" font-size="18.6" >4</text>
<text x="962.5" y="453.0" font-size="16" >"</text>
<text x="927.4" y="481.4" font-size="17.2" >bckst.</text>
<line x1="695.6" y1="346.7" x2="777.8" y2="346.7" stroke="#111" stroke-width="1.1" />
<line x1="771.6" y1="346.7" x2="771.6" y2="632.0" stroke="#111" stroke-width="1.2" />
<line x1="771.6" y1="661.0" x2="771.6" y2="781.8" stroke="#111" stroke-width="1.2" />
<path d="M771.60,346.70 L769.90,356.70 L773.30,356.70 Z" fill="#111"/>
<path d="M771.60,781.80 L769.90,771.80 L773.30,771.80 Z" fill="#111"/>
<text transform="translate(779,646) rotate(-90)" font-size="17" text-anchor="middle">70"</text>
<line x1="695.1" y1="706.6" x2="717.5" y2="706.6" stroke="#111" stroke-width="1.2" />
<line x1="711.2" y1="706.6" x2="711.2" y2="732.0" stroke="#111" stroke-width="1.2" />
<line x1="711.2" y1="758.0" x2="711.2" y2="781.8" stroke="#111" stroke-width="1.2" />
<path d="M711.20,706.60 L709.60,715.60 L712.80,715.60 Z" fill="#111"/>
<path d="M711.20,781.80 L709.60,772.80 L712.80,772.80 Z" fill="#111"/>
<text transform="translate(717.5,745) rotate(-90)" font-size="17" text-anchor="middle">12"</text>
<line x1="870.0" y1="669.8" x2="890.0" y2="669.8" stroke="#111" stroke-width="1.2" />
<line x1="870.0" y1="744.5" x2="890.0" y2="744.5" stroke="#111" stroke-width="1.2" />
<line x1="883.7" y1="669.8" x2="883.7" y2="693.0" stroke="#111" stroke-width="1.2" />
<line x1="883.7" y1="720.0" x2="883.7" y2="744.5" stroke="#111" stroke-width="1.2" />
<path d="M883.70,669.80 L882.10,678.80 L885.30,678.80 Z" fill="#111"/>
<path d="M883.70,744.50 L882.10,735.50 L885.30,735.50 Z" fill="#111"/>
<text transform="translate(890,707) rotate(-90)" font-size="17" text-anchor="middle">12"</text>
<rect x="365.3" y="202" width="87.00" height="34.40" fill="#fff" stroke="#555" stroke-width="1"/>
<text x="369.5" y="217.0" font-size="12.4" >Hinge: Ø1"x4"</text>
<text x="369.5" y="232.0" font-size="12.4" >Door (3x)</text>
<line x1="452.3" y1="214.0" x2="475.9" y2="245.6" stroke="#111" stroke-width="0.8" />
<rect x="364.3" y="271.6" width="89.00" height="37.20" fill="#fff" stroke="#555" stroke-width="1"/>
<text x="368.0" y="303.5" font-size="12.4" >Glass (3x)</text>
<text x="368.00" y="288.00" font-size="12.4">Hinge: Ø</text><text x="419.35" y="283.54" font-size="8.68" text-anchor="middle">5</text><text x="419.35" y="290.73" font-size="8.68" text-anchor="middle">8</text><line x1="416.93" y1="284.28" x2="421.76" y2="284.28" stroke="#777" stroke-width="0.5"/><text x="422.06" y="288.00" font-size="12.4">"x2</text><text x="441.97" y="283.54" font-size="8.68" text-anchor="middle">1</text><text x="441.97" y="290.73" font-size="8.68" text-anchor="middle">4</text><line x1="439.56" y1="284.28" x2="444.39" y2="284.28" stroke="#777" stroke-width="0.5"/><text x="444.69" y="288.00" font-size="12.4">"</text>
<line x1="453.3" y1="289.5" x2="515.0" y2="286.0" stroke="#111" stroke-width="0.8" />
<rect x="368.2" y="336.3" width="83.80" height="18.90" fill="#fff" stroke="#555" stroke-width="1"/>
<text x="371.5" y="350.0" font-size="12.4" >Flushbolt (1x)</text>
<line x1="452.0" y1="351.3" x2="684.0" y2="351.3" stroke="#111" stroke-width="0.8" />
<rect x="380.2" y="378.6" width="74.50" height="37.80" fill="#fff" stroke="#555" stroke-width="1"/>
<text x="451.6" y="391.6" font-size="12.4" text-anchor="end" >Door stop</text>
<text x="382.50" y="409.60" font-size="12.4">PTR: 1</text><text x="423.50" y="405.14" font-size="8.68" text-anchor="middle">1</text><text x="423.50" y="412.33" font-size="8.68" text-anchor="middle">4</text><line x1="421.09" y1="405.88" x2="425.91" y2="405.88" stroke="#777" stroke-width="0.5"/><text x="426.21" y="409.60" font-size="12.4">"x </text><text x="442.67" y="405.14" font-size="8.68" text-anchor="middle">3</text><text x="442.67" y="412.33" font-size="8.68" text-anchor="middle">4</text><line x1="440.26" y1="405.88" x2="445.09" y2="405.88" stroke="#777" stroke-width="0.5"/><text x="445.39" y="409.60" font-size="12.4">"</text>
<line x1="454.7" y1="393.0" x2="483.4" y2="393.0" stroke="#111" stroke-width="0.8" />
<circle cx="483.4" cy="393" r="1.5" fill="#111"/>
<rect x="361.3" y="439.2" width="94.30" height="39.20" fill="#fff" stroke="#555" stroke-width="1"/>
<text x="364.5" y="452.7" font-size="12.4" >Forging square</text>
<text x="366.41" y="467.54" font-size="8.68" text-anchor="middle">5</text><text x="366.41" y="474.73" font-size="8.68" text-anchor="middle">8</text><line x1="364.00" y1="468.28" x2="368.83" y2="468.28" stroke="#777" stroke-width="0.5"/><text x="369.13" y="472.00" font-size="12.4">"x</text><text x="382.14" y="467.54" font-size="8.68" text-anchor="middle">5</text><text x="382.14" y="474.73" font-size="8.68" text-anchor="middle">8</text><line x1="379.73" y1="468.28" x2="384.56" y2="468.28" stroke="#777" stroke-width="0.5"/><text x="384.86" y="472.00" font-size="12.4">"</text>
<line x1="455.6" y1="454.2" x2="540.0" y2="454.2" stroke="#111" stroke-width="0.8" />
<rect x="376.4" y="519.3" width="73.00" height="34.10" fill="#fff" stroke="#555" stroke-width="1"/>
<text x="378.5" y="534.0" font-size="12.4" >Roller catch</text>
<text x="378.5" y="549.5" font-size="12.4" >(1x)</text>
<line x1="449.4" y1="535.0" x2="691.5" y2="537.0" stroke="#111" stroke-width="0.8" />
<rect x="368.4" y="694.6" width="83.10" height="18.20" fill="#fff" stroke="#555" stroke-width="1"/>
<text x="371.5" y="708.0" font-size="12.4" >Flushbolt (1x)</text>
<line x1="451.5" y1="709.3" x2="684.2" y2="709.3" stroke="#111" stroke-width="0.8" />
<rect x="378.3" y="759" width="74.20" height="34.00" fill="#fff" stroke="#555" stroke-width="1"/>
<text x="380.8" y="773.0" font-size="12.4" >Threshold</text>
<text x="380.8" y="789.0" font-size="12.4" >(See Detail)</text>
<line x1="452.5" y1="773.0" x2="505.0" y2="790.0" stroke="#111" stroke-width="0.8" />
<circle cx="505.5" cy="790" r="1.5" fill="#111"/>
<rect x="133.0" y="161.5" width="53.0" height="26.3" stroke="#111" stroke-width="2.6" fill="none" rx="2.5" />
<rect x="186.0" y="161.5" width="53.0" height="26.3" stroke="#111" stroke-width="2.6" fill="none" rx="2.5" />
<text x="159.5" y="179.0" font-size="11.6" text-anchor="middle" >3"x1-1/2"</text>
<text x="212.5" y="179.0" font-size="11.6" text-anchor="middle" >3"x1-1/2"</text>
<rect x="170.5" y="193.4" width="27.5" height="15.9" stroke="#111" stroke-width="2.6" fill="none" rx="2.5" />
<rect x="204.5" y="192.0" width="35.3" height="105.0" stroke="#999" stroke-width="1.5" fill="none" rx="0" />
<text transform="translate(228.50,240.50) rotate(-90)" font-size="16.3" text-anchor="middle">6"x2"</text>
<line x1="204.3" y1="297.0" x2="204.3" y2="413.6" stroke="#111" stroke-width="1.4" />
<line x1="215.2" y1="297.0" x2="215.2" y2="413.6" stroke="#111" stroke-width="1.4" />
<clipPath id="c2043_3097"><rect x="204.3" y="309.7" width="10.90" height="11.70"/></clipPath>
<rect x="204.3" y="309.7" width="10.90" height="11.70" fill="#2a2a2a"/>
<path d="M192.60,321.40 L204.30,309.70 M194.20,321.40 L205.90,309.70 M195.80,321.40 L207.50,309.70 M197.40,321.40 L209.10,309.70 M199.00,321.40 L210.70,309.70 M200.60,321.40 L212.30,309.70 M202.20,321.40 L213.90,309.70 M203.80,321.40 L215.50,309.70 M205.40,321.40 L217.10,309.70 M207.00,321.40 L218.70,309.70 M208.60,321.40 L220.30,309.70 M210.20,321.40 L221.90,309.70 M211.80,321.40 L223.50,309.70 M213.40,321.40 L225.10,309.70 M215.00,321.40 L226.70,309.70 M216.60,321.40 L228.30,309.70 M218.20,321.40 L229.90,309.70 M219.80,321.40 L231.50,309.70 M221.40,321.40 L233.10,309.70 M223.00,321.40 L234.70,309.70 M224.60,321.40 L236.30,309.70 M226.20,321.40 L237.90,309.70 " stroke="#aaa" stroke-width="0.5" clip-path="url(#c2043_3097)"/>
<clipPath id="c2043_3300"><rect x="204.3" y="330" width="10.90" height="11.70"/></clipPath>
<rect x="204.3" y="330" width="10.90" height="11.70" fill="#2a2a2a"/>
<path d="M192.60,341.70 L204.30,330.00 M194.20,341.70 L205.90,330.00 M195.80,341.70 L207.50,330.00 M197.40,341.70 L209.10,330.00 M199.00,341.70 L210.70,330.00 M200.60,341.70 L212.30,330.00 M202.20,341.70 L213.90,330.00 M203.80,341.70 L215.50,330.00 M205.40,341.70 L217.10,330.00 M207.00,341.70 L218.70,330.00 M208.60,341.70 L220.30,330.00 M210.20,341.70 L221.90,330.00 M211.80,341.70 L223.50,330.00 M213.40,341.70 L225.10,330.00 M215.00,341.70 L226.70,330.00 M216.60,341.70 L228.30,330.00 M218.20,341.70 L229.90,330.00 M219.80,341.70 L231.50,330.00 M221.40,341.70 L233.10,330.00 M223.00,341.70 L234.70,330.00 M224.60,341.70 L236.30,330.00 M226.20,341.70 L237.90,330.00 " stroke="#aaa" stroke-width="0.5" clip-path="url(#c2043_3300)"/>
<clipPath id="c2043_3595"><rect x="204.3" y="359.5" width="10.90" height="11.70"/></clipPath>
<rect x="204.3" y="359.5" width="10.90" height="11.70" fill="#2a2a2a"/>
<path d="M192.60,371.20 L204.30,359.50 M194.20,371.20 L205.90,359.50 M195.80,371.20 L207.50,359.50 M197.40,371.20 L209.10,359.50 M199.00,371.20 L210.70,359.50 M200.60,371.20 L212.30,359.50 M202.20,371.20 L213.90,359.50 M203.80,371.20 L215.50,359.50 M205.40,371.20 L217.10,359.50 M207.00,371.20 L218.70,359.50 M208.60,371.20 L220.30,359.50 M210.20,371.20 L221.90,359.50 M211.80,371.20 L223.50,359.50 M213.40,371.20 L225.10,359.50 M215.00,371.20 L226.70,359.50 M216.60,371.20 L228.30,359.50 M218.20,371.20 L229.90,359.50 M219.80,371.20 L231.50,359.50 M221.40,371.20 L233.10,359.50 M223.00,371.20 L234.70,359.50 M224.60,371.20 L236.30,359.50 M226.20,371.20 L237.90,359.50 " stroke="#aaa" stroke-width="0.5" clip-path="url(#c2043_3595)"/>
<clipPath id="c2043_3921"><rect x="204.3" y="392.1" width="10.90" height="11.70"/></clipPath>
<rect x="204.3" y="392.1" width="10.90" height="11.70" fill="#2a2a2a"/>
<path d="M192.60,403.80 L204.30,392.10 M194.20,403.80 L205.90,392.10 M195.80,403.80 L207.50,392.10 M197.40,403.80 L209.10,392.10 M199.00,403.80 L210.70,392.10 M200.60,403.80 L212.30,392.10 M202.20,403.80 L213.90,392.10 M203.80,403.80 L215.50,392.10 M205.40,403.80 L217.10,392.10 M207.00,403.80 L218.70,392.10 M208.60,403.80 L220.30,392.10 M210.20,403.80 L221.90,392.10 M211.80,403.80 L223.50,392.10 M213.40,403.80 L225.10,392.10 M215.00,403.80 L226.70,392.10 M216.60,403.80 L228.30,392.10 M218.20,403.80 L229.90,392.10 M219.80,403.80 L231.50,392.10 M221.40,403.80 L233.10,392.10 M223.00,403.80 L234.70,392.10 M224.60,403.80 L236.30,392.10 M226.20,403.80 L237.90,392.10 " stroke="#aaa" stroke-width="0.5" clip-path="url(#c2043_3921)"/>
<line x1="204.3" y1="297.0" x2="239.8" y2="297.0" stroke="#777" stroke-width="1.3" />
<path d="M228.4,317 L228.4,299.8 L252.3,299.8 L252.3,312.4 L231.7,312.4 L231.7,317" fill="none" stroke="#111" stroke-width="1.6"/>
<rect x="232.5" y="302.2" width="17.0" height="8.3" stroke="#111" stroke-width="1.2" fill="none" rx="0" />
<rect x="239.0" y="280.3" width="10.0" height="16.9" stroke="#111" stroke-width="1.5" fill="none" rx="1" />
<rect x="241.3" y="282.5" width="5.4" height="12.5" stroke="#111" stroke-width="0.9" fill="none" rx="0" />
<line x1="251.8" y1="291.0" x2="251.8" y2="312.0" stroke="#111" stroke-width="1.6" />
<line x1="231.7" y1="312.4" x2="231.7" y2="397.0" stroke="#111" stroke-width="1.6" />
<line x1="234.5" y1="316.0" x2="234.5" y2="394.0" stroke="#111" stroke-width="1.2" />
<line x1="239.5" y1="316.0" x2="239.5" y2="394.0" stroke="#111" stroke-width="1" />
<line x1="242.3" y1="316.0" x2="242.3" y2="394.0" stroke="#111" stroke-width="1.2" />
<line x1="251.6" y1="316.0" x2="251.6" y2="397.0" stroke="#666" stroke-width="0.9" />
<rect x="233" y="313" width="8.5" height="7.5" fill="#111"/>
<rect x="233" y="389.5" width="8.5" height="7.5" fill="#111"/>
<clipPath id="c2430_3130"><rect x="243" y="313" width="8.50" height="9.00"/></clipPath>
<rect x="243" y="313" width="8.50" height="9.00" fill="#fff"/>
<path d="M234.00,322.00 L243.00,313.00 M235.50,322.00 L244.50,313.00 M237.00,322.00 L246.00,313.00 M238.50,322.00 L247.50,313.00 M240.00,322.00 L249.00,313.00 M241.50,322.00 L250.50,313.00 M243.00,322.00 L252.00,313.00 M244.50,322.00 L253.50,313.00 M246.00,322.00 L255.00,313.00 M247.50,322.00 L256.50,313.00 M249.00,322.00 L258.00,313.00 M250.50,322.00 L259.50,313.00 M252.00,322.00 L261.00,313.00 M253.50,322.00 L262.50,313.00 M255.00,322.00 L264.00,313.00 M256.50,322.00 L265.50,313.00 M258.00,322.00 L267.00,313.00 M259.50,322.00 L268.50,313.00 " stroke="#111" stroke-width="0.7" clip-path="url(#c2430_3130)"/>
<clipPath id="c2430_3880"><rect x="243" y="388" width="8.50" height="9.00"/></clipPath>
<rect x="243" y="388" width="8.50" height="9.00" fill="#fff"/>
<path d="M234.00,397.00 L243.00,388.00 M235.50,397.00 L244.50,388.00 M237.00,397.00 L246.00,388.00 M238.50,397.00 L247.50,388.00 M240.00,397.00 L249.00,388.00 M241.50,397.00 L250.50,388.00 M243.00,397.00 L252.00,388.00 M244.50,397.00 L253.50,388.00 M246.00,397.00 L255.00,388.00 M247.50,397.00 L256.50,388.00 M249.00,397.00 L258.00,388.00 M250.50,397.00 L259.50,388.00 M252.00,397.00 L261.00,388.00 M253.50,397.00 L262.50,388.00 M255.00,397.00 L264.00,388.00 M256.50,397.00 L265.50,388.00 M258.00,397.00 L267.00,388.00 M259.50,397.00 L268.50,388.00 " stroke="#111" stroke-width="0.7" clip-path="url(#c2430_3880)"/>
<path d="M228.4,390 L228.4,411 L252.3,411 L252.3,397 L231.7,397" fill="none" stroke="#111" stroke-width="1.6"/>
<rect x="232.5" y="399.5" width="17.0" height="9.0" stroke="#111" stroke-width="1.2" fill="none" rx="0" />
<line x1="224.3" y1="384.8" x2="224.3" y2="411.2" stroke="#555" stroke-width="0.8" />
<line x1="220.0" y1="388.5" x2="228.0" y2="388.5" stroke="#555" stroke-width="0.8" />
<line x1="220.0" y1="411.0" x2="228.0" y2="411.0" stroke="#555" stroke-width="0.8" />
<path d="M224.3,388.5 L223.3,392.5 L225.3,392.5Z M224.3,411 L223.3,407 L225.3,407Z" fill="#333"/>
<text transform="translate(227.50,371.00) rotate(-90)" font-size="9.8" text-anchor="middle">1 1/4"</text>
<line x1="245.0" y1="397.0" x2="270.0" y2="397.0" stroke="#555" stroke-width="0.8" />
<line x1="270.0" y1="397.0" x2="271.0" y2="393.0" stroke="#555" stroke-width="0.8" />
<g transform="translate(280.5,377.5) rotate(90) scale(1.15)"><text x="0" y="-1" font-size="11" text-anchor="middle">1</text><line x1="-3.5" y1="1" x2="3.5" y2="1" stroke="#666" stroke-width="0.7"/><text x="0" y="10" font-size="11" text-anchor="middle">2</text><text x="7" y="3" font-size="12" text-anchor="middle">"</text></g>
<g stroke="#111" stroke-width="0.45">
<text x="152.2" y="326.8" font-size="11.5" text-anchor="middle" >5</text>
<line x1="148.5" y1="329.1" x2="156.0" y2="329.1" stroke="#666" stroke-width="0.6" />
<text x="152.2" y="339.4" font-size="11.5" text-anchor="middle" >8</text>
<text x="156.0" y="331.0" font-size="13" >"</text>
<text x="162.5" y="337.0" font-size="14.5" >X</text>
<text x="175.2" y="326.8" font-size="11.5" text-anchor="middle" >5</text>
<line x1="171.5" y1="329.1" x2="179.0" y2="329.1" stroke="#666" stroke-width="0.6" />
<text x="175.2" y="339.4" font-size="11.5" text-anchor="middle" >8</text>
<text x="179.5" y="331.0" font-size="13" >"</text>
</g>
<path d="M188,339.4 L191,339.4 L204,319" fill="none" stroke="#444" stroke-width="0.8"/>
<circle cx="204" cy="319" r="1.5" fill="#111"/>
<rect x="204.2" y="413.6" width="35.7" height="104.9" stroke="#111" stroke-width="2.2" fill="none" rx="1.5" />
<text transform="translate(229.00,461.50) rotate(-90)" font-size="16.5" text-anchor="middle">6"x2"</text>
<rect x="240.5" y="412.5" width="8.5" height="18.1" stroke="#111" stroke-width="1.6" fill="none" rx="1" />
<line x1="252.3" y1="411.0" x2="252.3" y2="417.0" stroke="#111" stroke-width="1.3" />
<text transform="translate(184.00,473.70) rotate(-90)" font-size="17" text-anchor="middle">Ext.</text>
<text transform="translate(270.00,474.30) rotate(-90)" font-size="17" text-anchor="middle">Int.</text>
<path d="M215.6,519.5 L228.5,519.5 L239.9,536.2 L239.9,607.7 L228.5,625.9 L215.6,625.9 L204.2,607.7 L204.2,536.2Z" fill="none" stroke="#111" stroke-width="1.4"/>
<path d="M217,522.5 L227,522.5 L237.3,537.5 L237.3,606.5 L227,623 L217,623 L206.8,606.5 L206.8,537.5Z" fill="none" stroke="#111" stroke-width="1"/>
<g fill="#111"><circle cx="215.2" cy="576.5" r="0.5"/><circle cx="232.8" cy="570.1" r="0.9"/><circle cx="210.7" cy="528.2" r="0.6"/><circle cx="215.7" cy="548.3" r="1.3"/><circle cx="221.2" cy="603.1" r="0.6"/><circle cx="219.3" cy="605.4" r="0.45"/><circle cx="225.5" cy="606.0" r="0.9"/><circle cx="219.1" cy="528.4" r="0.4"/><circle cx="213.1" cy="614.1" r="0.4"/><circle cx="216.8" cy="529.8" r="0.5"/><circle cx="221.3" cy="592.4" r="0.6"/><circle cx="227.6" cy="610.8" r="0.6"/><circle cx="227.9" cy="579.5" r="0.45"/><circle cx="231.9" cy="535.9" r="0.45"/><circle cx="221.9" cy="550.5" r="1.3"/><circle cx="220.3" cy="584.0" r="0.5"/><circle cx="219.9" cy="602.8" r="0.9"/><circle cx="218.1" cy="580.2" r="0.9"/><circle cx="215.0" cy="557.6" r="0.4"/><circle cx="231.3" cy="617.2" r="1.3"/><circle cx="227.1" cy="590.6" r="0.5"/><circle cx="234.1" cy="609.3" r="0.9"/><circle cx="211.7" cy="586.7" r="1.3"/><circle cx="230.6" cy="579.2" r="0.5"/><circle cx="212.2" cy="570.9" r="1.3"/><circle cx="234.7" cy="535.1" r="0.4"/><circle cx="219.7" cy="540.7" r="0.5"/><circle cx="220.1" cy="564.8" r="0.4"/><circle cx="210.1" cy="582.9" r="0.4"/><circle cx="218.8" cy="580.4" r="0.9"/><circle cx="231.9" cy="616.2" r="0.9"/><circle cx="215.1" cy="530.3" r="0.4"/><circle cx="211.0" cy="581.6" r="0.4"/><circle cx="233.7" cy="615.4" r="0.5"/><circle cx="224.9" cy="541.2" r="0.4"/><circle cx="234.5" cy="557.9" r="0.5"/><circle cx="233.9" cy="608.6" r="0.6"/><circle cx="218.8" cy="606.2" r="0.6"/><circle cx="225.7" cy="581.2" r="0.9"/><circle cx="211.7" cy="615.5" r="0.9"/><circle cx="216.1" cy="584.7" r="1.3"/><circle cx="215.2" cy="554.4" r="0.5"/><circle cx="222.5" cy="576.9" r="0.4"/><circle cx="229.5" cy="616.9" r="0.5"/><circle cx="209.5" cy="583.0" r="1.3"/><circle cx="212.5" cy="584.7" r="0.5"/><circle cx="221.1" cy="588.8" r="0.5"/><circle cx="224.8" cy="552.4" r="0.6"/><circle cx="209.6" cy="532.5" r="1.3"/><circle cx="209.6" cy="560.6" r="1.3"/><circle cx="220.9" cy="580.9" r="0.5"/><circle cx="213.6" cy="543.9" r="0.5"/><circle cx="230.9" cy="551.0" r="0.6"/><circle cx="211.7" cy="601.0" r="0.9"/><circle cx="226.8" cy="539.0" r="0.9"/><circle cx="214.8" cy="600.1" r="0.45"/><circle cx="217.5" cy="588.7" r="1.3"/><circle cx="227.1" cy="536.3" r="0.5"/><circle cx="233.7" cy="588.4" r="0.45"/><circle cx="220.4" cy="604.9" r="0.45"/><circle cx="211.1" cy="594.5" r="0.45"/><circle cx="232.0" cy="568.1" r="0.45"/><circle cx="229.5" cy="530.1" r="0.45"/><circle cx="217.2" cy="603.1" r="0.9"/><circle cx="213.8" cy="552.4" r="1.3"/><circle cx="211.2" cy="583.4" r="0.9"/><circle cx="212.4" cy="553.6" r="0.5"/><circle cx="221.1" cy="584.7" r="0.5"/><circle cx="219.9" cy="564.3" r="0.6"/><circle cx="213.1" cy="527.4" r="0.9"/><circle cx="234.7" cy="566.5" r="1.3"/><circle cx="214.8" cy="594.8" r="1.3"/><circle cx="228.4" cy="614.7" r="0.9"/><circle cx="217.9" cy="547.7" r="0.4"/><circle cx="231.3" cy="615.4" r="0.4"/><circle cx="230.1" cy="531.1" r="1.3"/><circle cx="222.3" cy="545.1" r="0.6"/><circle cx="224.0" cy="528.2" r="1.3"/><circle cx="212.1" cy="572.8" r="0.45"/><circle cx="226.2" cy="574.8" r="0.6"/><circle cx="210.4" cy="610.1" r="0.4"/><circle cx="217.9" cy="550.0" r="0.9"/><circle cx="221.4" cy="598.2" r="0.5"/><circle cx="214.7" cy="538.1" r="0.4"/><circle cx="213.5" cy="599.0" r="0.45"/><circle cx="230.4" cy="527.7" r="1.3"/><circle cx="223.8" cy="563.4" r="0.5"/><circle cx="215.5" cy="583.2" r="0.9"/><circle cx="220.0" cy="570.0" r="0.4"/><circle cx="231.3" cy="597.5" r="0.4"/></g>
<text x="122.5" y="570.3" font-size="13" >Laminated</text>
<text x="130.9" y="603.0" font-size="12.8" >Insulated</text>
<line x1="186.0" y1="570.0" x2="193.0" y2="570.0" stroke="#555" stroke-width="0.7" />
<line x1="193.0" y1="570.0" x2="205.0" y2="558.0" stroke="#555" stroke-width="0.7" />
<line x1="186.0" y1="604.0" x2="193.0" y2="604.0" stroke="#555" stroke-width="0.7" />
<line x1="193.0" y1="604.0" x2="222.0" y2="581.0" stroke="#555" stroke-width="0.7" />
<circle cx="222" cy="581" r="1.3" fill="#111"/>
<rect x="204.5" y="626.5" width="34.9" height="105.0" stroke="#111" stroke-width="2.2" fill="none" rx="1.5" />
<text transform="translate(228.50,678.00) rotate(-90)" font-size="16.5" text-anchor="middle">6"x2"</text>
<path d="M133.8,766.4 L133.8,758.7 L203.6,740.9 L239.4,740.9 L239.4,766.4 Z" fill="none" stroke="#111" stroke-width="2.2" stroke-linejoin="round"/>
<line x1="133.8" y1="768.0" x2="133.8" y2="786.0" stroke="#111" stroke-width="0.9" />
<line x1="239.4" y1="768.0" x2="239.4" y2="786.0" stroke="#111" stroke-width="0.9" />
<line x1="133.8" y1="782.6" x2="183.0" y2="782.6" stroke="#111" stroke-width="0.9" />
<line x1="199.0" y1="782.6" x2="239.4" y2="782.6" stroke="#111" stroke-width="0.9" />
<path d="M133.80,782.60 L139.80,781.50 L139.80,783.70 Z" fill="#111"/>
<path d="M239.40,782.60 L233.40,781.50 L233.40,783.70 Z" fill="#111"/>
<text x="191.0" y="787.0" font-size="12.5" text-anchor="middle" >6"</text>
<line x1="240.0" y1="731.5" x2="256.0" y2="731.5" stroke="#111" stroke-width="0.8" />
<line x1="240.0" y1="740.9" x2="280.0" y2="740.9" stroke="#111" stroke-width="0.8" />
<line x1="240.0" y1="766.4" x2="280.0" y2="766.4" stroke="#111" stroke-width="0.8" />
<line x1="253.0" y1="707.0" x2="253.0" y2="731.5" stroke="#111" stroke-width="0.8" />
<line x1="253.0" y1="707.0" x2="257.0" y2="707.0" stroke="#111" stroke-width="0.8" />
<path d="M253.00,731.50 L251.90,725.50 L254.10,725.50 Z" fill="#111"/>
<line x1="253.0" y1="741.0" x2="253.0" y2="751.0" stroke="#111" stroke-width="0.8" />
<path d="M253.00,741.00 L251.90,747.00 L254.10,747.00 Z" fill="#111"/>
<text x="258.0" y="708.5" font-size="9" >1</text>
<line x1="258.5" y1="717.0" x2="266.0" y2="702.0" stroke="#111" stroke-width="0.8" />
<text x="263.0" y="719.0" font-size="12" >2</text>
<text x="271.0" y="709.0" font-size="11" >"</text>
<line x1="277.7" y1="741.0" x2="277.7" y2="786.0" stroke="#111" stroke-width="0.8" />
<path d="M277.70,741.00 L276.60,747.00 L278.80,747.00 Z" fill="#111"/>
<path d="M277.70,766.40 L276.60,760.40 L278.80,760.40 Z" fill="#111"/>
<line x1="268.0" y1="786.0" x2="277.7" y2="786.0" stroke="#111" stroke-width="0.8" />
<text x="248.7" y="790.0" font-size="13" >1</text>
<text x="256.5" y="781.0" font-size="9" >1</text>
<line x1="256.0" y1="792.0" x2="265.0" y2="775.0" stroke="#111" stroke-width="0.8" />
<text x="261.0" y="792.0" font-size="13" >2</text>
<text x="268.5" y="786.0" font-size="12" >"</text>
<text x="371.5" y="41.5" font-size="13.9" >Inside</text>
<rect x="370.5" y="62.4" width="8.7" height="25.9" stroke="#111" stroke-width="0" fill="#111" rx="0" />
<rect x="375.2" y="63.0" width="48.3" height="9.2" stroke="#111" stroke-width="1.3" fill="#fff" rx="0.8" />
<rect x="479.0" y="62.5" width="8.7" height="26.5" stroke="#111" stroke-width="0" fill="#111" rx="0" />
<path d="M435.5,37.8 L484.5,63.4 L479.5,72.1 L431,47.3 Z" fill="#fff" stroke="#111" stroke-width="1.3"/>
<path d="M479.5,72.1 L484,72.1 L484.5,63.4" fill="#fff" stroke="#111" stroke-width="0.9"/>
<line x1="435.5" y1="73.0" x2="440.5" y2="59.0" stroke="#111" stroke-width="1.2" />
<path d="M442.9,53.7 L439,62.5 L441.5,63 Z" fill="#111"/>
<text x="403.7" y="93.2" font-size="13.9" >Outside</text>
<rect x="361.7" y="105.0" width="139.3" height="23.5" stroke="#444" stroke-width="1" fill="none" rx="0" />
<text x="368.0" y="121.5" font-size="13.9" >Right Hand In-swing</text>
<rect x="616.0" y="59.5" width="140.0" height="34.5" stroke="#111" stroke-width="1.8" fill="none" rx="0" />
<text x="623.0" y="83.0" font-size="17.2" >OUTSIDE VIEW</text>
<rect x="964.5" y="51.3" width="26.8" height="51.5" stroke="#111" stroke-width="1.5" fill="none" rx="2.5" />
<rect x="968.6" y="55.0" width="18.9" height="45.6" stroke="#111" stroke-width="1.3" fill="none" rx="0" />
<path d="M966,60 L968,56 M965.5,70 L968.5,64 M965.5,80 L968.5,74 M965.5,90 L968.5,84 M965.5,100 L968.5,94 M987.5,62 L990,57 M987.5,72 L990,67 M987.5,82 L990,77 M987.5,92 L990,87 M970,102.5 L972,100.6 M978,102.5 L980,100.6" stroke="#111" stroke-width="0.8"/>
<clipPath id="c9966_710"><rect x="996.6" y="71" width="33.10" height="31.80"/></clipPath>
<rect x="996.6" y="71" width="33.10" height="31.80" fill="#fff"/>
<path d="M964.80,102.80 L996.60,71.00 M977.30,102.80 L1009.10,71.00 M989.80,102.80 L1021.60,71.00 M1002.30,102.80 L1034.10,71.00 M1014.80,102.80 L1046.60,71.00 M1027.30,102.80 L1059.10,71.00 M1039.80,102.80 L1071.60,71.00 M1052.30,102.80 L1084.10,71.00 " stroke="#111" stroke-width="1.4" clip-path="url(#c9966_710)"/>
<rect x="996.6" y="71" width="33.10" height="31.80" fill="none" stroke="#111" stroke-width="1.5"/>
<clipPath id="c9645_1028"><rect x="964.5" y="102.8" width="65.20" height="10.70"/></clipPath>
<rect x="964.5" y="102.8" width="65.20" height="10.70" fill="#fff"/>
<path d="M953.80,113.50 L964.50,102.80 M965.60,113.50 L976.30,102.80 M977.40,113.50 L988.10,102.80 M989.20,113.50 L999.90,102.80 M1001.00,113.50 L1011.70,102.80 M1012.80,113.50 L1023.50,102.80 M1024.60,113.50 L1035.30,102.80 M1036.40,113.50 L1047.10,102.80 " stroke="#111" stroke-width="1.4" clip-path="url(#c9645_1028)"/>
<rect x="964.5" y="102.8" width="65.20" height="10.70" fill="none" stroke="#111" stroke-width="1.5"/>
<rect x="992.0" y="68.0" width="4.6" height="34.8" stroke="#111" stroke-width="1" fill="none" rx="0" />
<path d="M992,68 L996,64 L999,71 Z" fill="#fff" stroke="#888" stroke-width="0.8"/>
<path d="M994.5,52 C1003,49 1012,52 1013,57 C1013,63 1006,66 994.5,67" fill="none" stroke="#999" stroke-width="1.2"/>
<circle cx="1003.5" cy="86.5" r="2.2" fill="#111"/>
<path d="M978,68 L976,31 L980,31" fill="none" stroke="#111" stroke-width="1"/>
<text x="985.0" y="37.7" font-size="10.5" >1"X</text>
<text x="1002.0" y="34.0" font-size="7" >1</text>
<text x="1002.0" y="41.5" font-size="7" >2</text>
<text x="1006.0" y="37.7" font-size="10" >"</text>
<path d="M1003.5,86.5 L1005.5,44.5 L1012,44.5" fill="none" stroke="#111" stroke-width="1"/>
<text x="1016.0" y="48.3" font-size="10.7" >Sq. Bar 5/8"</text>
<path d="M997.5,106.4 L1020,124 L1026,124" fill="none" stroke="#111" stroke-width="1.2"/>
<text x="1030.7" y="128.6" font-size="10.7" >Flat bar</text>
<text x="1034.5" y="145.0" font-size="10" >1</text>
<text x="1045.0" y="139.0" font-size="6.5" >1</text>
<text x="1045.0" y="146.0" font-size="6.5" >4</text>
<text x="1048.0" y="143.0" font-size="9.5" >"x</text>
<text x="1058.0" y="139.0" font-size="6.5" >3</text>
<text x="1056.0" y="146.0" font-size="6.5" >16</text>
<text x="1064.0" y="142.0" font-size="9" >"</text>
<text x="951.0" y="162.0" font-size="14.3" >Astragal std</text>
<rect x="1017.5" y="243.9" width="33.8" height="67.4" stroke="#111" stroke-width="2.6" fill="none" rx="2.5" />
<rect x="1017.5" y="311.3" width="33.8" height="67.4" stroke="#111" stroke-width="2.6" fill="none" rx="2.5" />
<text transform="translate(1039.50,277.60) rotate(-90)" font-size="14.3" text-anchor="middle">3"x1-1/2"</text>
<text transform="translate(1039.50,345.00) rotate(-90)" font-size="14.3" text-anchor="middle">3"x1-1/2"</text>
<rect x="1055.8" y="244.5" width="134.9" height="44.1" stroke="#888" stroke-width="1.4" fill="none" rx="0" />
<rect x="1057.3" y="246.0" width="131.9" height="41.1" stroke="#bbb" stroke-width="0.6" fill="none" rx="0" />
<text x="1127.7" y="273.6" font-size="19" text-anchor="middle" >6"x2"</text>
<rect x="1055.8" y="298.4" width="17.1" height="28.2" stroke="#111" stroke-width="2.6" fill="none" rx="2.5" />
<circle cx="1064" cy="311" r="1.7" fill="#111"/>
<path d="M1064,311 L1090,340 L1100,340" fill="none" stroke="#444" stroke-width="0.9"/>
<text x="1104.4" y="343.7" font-size="12.3" >Door stop</text>
<text x="1098.4" y="359.0" font-size="12.3" >1-1/4"x3/4"</text>
<circle cx="1175.4" cy="226.2" r="6.8" fill="#fff" stroke="#111" stroke-width="1.4"/>
<line x1="1172.5" y1="226.2" x2="1178.3" y2="226.2" stroke="#111" stroke-width="1" />
<line x1="1175.4" y1="223.3" x2="1175.4" y2="229.1" stroke="#111" stroke-width="1" />
<line x1="1160.0" y1="217.0" x2="1168.5" y2="223.0" stroke="#111" stroke-width="1.1" />
<text transform="translate(1122,209) rotate(22)" font-size="15">Ø5/8"</text>
<rect x="1168.3" y="233.2" width="23.4" height="11.1" stroke="#111" stroke-width="1.6" fill="none" rx="1.5" />
<rect x="1170.8" y="235.5" width="18.4" height="6.5" stroke="#111" stroke-width="1" fill="none" rx="1" />
<rect x="1194.1" y="227.3" width="17.4" height="31.6" stroke="#111" stroke-width="1.6" fill="none" rx="0" />
<rect x="1197.4" y="230.0" width="11.0" height="25.6" stroke="#111" stroke-width="1.2" fill="none" rx="0" />
<line x1="1182.9" y1="227.3" x2="1194.1" y2="227.3" stroke="#111" stroke-width="1.4" />
<line x1="1182.9" y1="230.0" x2="1194.1" y2="230.0" stroke="#111" stroke-width="1" />
<line x1="1194.1" y1="258.9" x2="1222.9" y2="258.9" stroke="#111" stroke-width="1.6" />
<rect x="1319.4" y="227.3" width="17.8" height="31.6" stroke="#111" stroke-width="1.6" fill="none" rx="0" />
<rect x="1322.5" y="230.0" width="11.5" height="25.6" stroke="#111" stroke-width="1.2" fill="none" rx="0" />
<line x1="1307.3" y1="258.9" x2="1337.2" y2="258.9" stroke="#111" stroke-width="1.6" />
<path d="M1337.2,227.3 L1347,227.3 L1347,230" fill="none" stroke="#111" stroke-width="1.4"/>
<line x1="1211.5" y1="228.7" x2="1319.4" y2="228.7" stroke="#555" stroke-width="0.8" />
<line x1="1211.5" y1="241.0" x2="1319.4" y2="241.0" stroke="#111" stroke-width="1.4" />
<line x1="1211.5" y1="243.0" x2="1319.4" y2="243.0" stroke="#111" stroke-width="0.8" />
<line x1="1211.5" y1="253.5" x2="1319.4" y2="253.5" stroke="#111" stroke-width="1.4" />
<line x1="1211.5" y1="251.5" x2="1319.4" y2="251.5" stroke="#111" stroke-width="0.8" />
<clipPath id="c12120_2287"><rect x="1212" y="228.7" width="10.90" height="11.80"/></clipPath>
<rect x="1212" y="228.7" width="10.90" height="11.80" fill="#fff"/>
<path d="M1200.20,240.50 L1212.00,228.70 M1201.70,240.50 L1213.50,228.70 M1203.20,240.50 L1215.00,228.70 M1204.70,240.50 L1216.50,228.70 M1206.20,240.50 L1218.00,228.70 M1207.70,240.50 L1219.50,228.70 M1209.20,240.50 L1221.00,228.70 M1210.70,240.50 L1222.50,228.70 M1212.20,240.50 L1224.00,228.70 M1213.70,240.50 L1225.50,228.70 M1215.20,240.50 L1227.00,228.70 M1216.70,240.50 L1228.50,228.70 M1218.20,240.50 L1230.00,228.70 M1219.70,240.50 L1231.50,228.70 M1221.20,240.50 L1233.00,228.70 M1222.70,240.50 L1234.50,228.70 M1224.20,240.50 L1236.00,228.70 M1225.70,240.50 L1237.50,228.70 M1227.20,240.50 L1239.00,228.70 M1228.70,240.50 L1240.50,228.70 M1230.20,240.50 L1242.00,228.70 M1231.70,240.50 L1243.50,228.70 M1233.20,240.50 L1245.00,228.70 M1234.70,240.50 L1246.50,228.70 " stroke="#111" stroke-width="0.7" clip-path="url(#c12120_2287)"/>
<clipPath id="c13073_2287"><rect x="1307.3" y="228.7" width="11.70" height="11.80"/></clipPath>
<rect x="1307.3" y="228.7" width="11.70" height="11.80" fill="#fff"/>
<path d="M1295.50,240.50 L1307.30,228.70 M1297.00,240.50 L1308.80,228.70 M1298.50,240.50 L1310.30,228.70 M1300.00,240.50 L1311.80,228.70 M1301.50,240.50 L1313.30,228.70 M1303.00,240.50 L1314.80,228.70 M1304.50,240.50 L1316.30,228.70 M1306.00,240.50 L1317.80,228.70 M1307.50,240.50 L1319.30,228.70 M1309.00,240.50 L1320.80,228.70 M1310.50,240.50 L1322.30,228.70 M1312.00,240.50 L1323.80,228.70 M1313.50,240.50 L1325.30,228.70 M1315.00,240.50 L1326.80,228.70 M1316.50,240.50 L1328.30,228.70 M1318.00,240.50 L1329.80,228.70 M1319.50,240.50 L1331.30,228.70 M1321.00,240.50 L1332.80,228.70 M1322.50,240.50 L1334.30,228.70 M1324.00,240.50 L1335.80,228.70 M1325.50,240.50 L1337.30,228.70 M1327.00,240.50 L1338.80,228.70 M1328.50,240.50 L1340.30,228.70 M1330.00,240.50 L1341.80,228.70 " stroke="#111" stroke-width="0.7" clip-path="url(#c13073_2287)"/>
<rect x="1211.5" y="243.0" width="8.3" height="8.4" stroke="#111" stroke-width="0" fill="#111" rx="0" />
<rect x="1311.0" y="243.0" width="8.4" height="8.4" stroke="#111" stroke-width="0" fill="#111" rx="0" />
<text x="1293.0" y="214.0" font-size="17" text-anchor="middle" >1</text>
<line x1="1288.0" y1="219.0" x2="1297.0" y2="219.0" stroke="#777" stroke-width="0.8" />
<text x="1293.0" y="232.0" font-size="17" text-anchor="middle" >2</text>
<text x="1301.5" y="214.0" font-size="16" text-anchor="middle" >"</text>
<text x="1268.5" y="268.6" font-size="11.5" >1 1/4"</text>
<line x1="1300.0" y1="265.0" x2="1340.0" y2="265.0" stroke="#555" stroke-width="0.8" />
<line x1="1307.3" y1="259.0" x2="1307.3" y2="272.0" stroke="#555" stroke-width="0.8" />
<line x1="1339.0" y1="259.0" x2="1339.0" y2="272.0" stroke="#555" stroke-width="0.8" />
<line x1="1188.9" y1="275.4" x2="1294.0" y2="275.4" stroke="#111" stroke-width="1.3" />
<line x1="1188.9" y1="289.6" x2="1294.0" y2="289.6" stroke="#111" stroke-width="1.6" />
<line x1="1302.8" y1="275.4" x2="1339.4" y2="275.4" stroke="#111" stroke-width="1.3" />
<line x1="1302.8" y1="289.6" x2="1339.4" y2="289.6" stroke="#111" stroke-width="1.6" />
<line x1="1190.7" y1="289.6" x2="1188.9" y2="289.6" stroke="#111" stroke-width="1.4" />
<clipPath id="c12077_2754"><rect x="1207.7" y="275.4" width="14.30" height="14.20"/></clipPath>
<rect x="1207.7" y="275.4" width="14.30" height="14.20" fill="#fff"/>
<path d="M1193.50,289.60 L1207.70,275.40 M1194.90,289.60 L1209.10,275.40 M1196.30,289.60 L1210.50,275.40 M1197.70,289.60 L1211.90,275.40 M1199.10,289.60 L1213.30,275.40 M1200.50,289.60 L1214.70,275.40 M1201.90,289.60 L1216.10,275.40 M1203.30,289.60 L1217.50,275.40 M1204.70,289.60 L1218.90,275.40 M1206.10,289.60 L1220.30,275.40 M1207.50,289.60 L1221.70,275.40 M1208.90,289.60 L1223.10,275.40 M1210.30,289.60 L1224.50,275.40 M1211.70,289.60 L1225.90,275.40 M1213.10,289.60 L1227.30,275.40 M1214.50,289.60 L1228.70,275.40 M1215.90,289.60 L1230.10,275.40 M1217.30,289.60 L1231.50,275.40 M1218.70,289.60 L1232.90,275.40 M1220.10,289.60 L1234.30,275.40 M1221.50,289.60 L1235.70,275.40 M1222.90,289.60 L1237.10,275.40 M1224.30,289.60 L1238.50,275.40 M1225.70,289.60 L1239.90,275.40 M1227.10,289.60 L1241.30,275.40 M1228.50,289.60 L1242.70,275.40 M1229.90,289.60 L1244.10,275.40 M1231.30,289.60 L1245.50,275.40 M1232.70,289.60 L1246.90,275.40 M1234.10,289.60 L1248.30,275.40 M1235.50,289.60 L1249.70,275.40 " stroke="#111" stroke-width="0.8" clip-path="url(#c12077_2754)"/>
<clipPath id="c12320_2754"><rect x="1232" y="275.4" width="14.40" height="14.20"/></clipPath>
<rect x="1232" y="275.4" width="14.40" height="14.20" fill="#fff"/>
<path d="M1217.80,289.60 L1232.00,275.40 M1219.20,289.60 L1233.40,275.40 M1220.60,289.60 L1234.80,275.40 M1222.00,289.60 L1236.20,275.40 M1223.40,289.60 L1237.60,275.40 M1224.80,289.60 L1239.00,275.40 M1226.20,289.60 L1240.40,275.40 M1227.60,289.60 L1241.80,275.40 M1229.00,289.60 L1243.20,275.40 M1230.40,289.60 L1244.60,275.40 M1231.80,289.60 L1246.00,275.40 M1233.20,289.60 L1247.40,275.40 M1234.60,289.60 L1248.80,275.40 M1236.00,289.60 L1250.20,275.40 M1237.40,289.60 L1251.60,275.40 M1238.80,289.60 L1253.00,275.40 M1240.20,289.60 L1254.40,275.40 M1241.60,289.60 L1255.80,275.40 M1243.00,289.60 L1257.20,275.40 M1244.40,289.60 L1258.60,275.40 M1245.80,289.60 L1260.00,275.40 M1247.20,289.60 L1261.40,275.40 M1248.60,289.60 L1262.80,275.40 M1250.00,289.60 L1264.20,275.40 M1251.40,289.60 L1265.60,275.40 M1252.80,289.60 L1267.00,275.40 M1254.20,289.60 L1268.40,275.40 M1255.60,289.60 L1269.80,275.40 M1257.00,289.60 L1271.20,275.40 M1258.40,289.60 L1272.60,275.40 M1259.80,289.60 L1274.00,275.40 " stroke="#111" stroke-width="0.8" clip-path="url(#c12320_2754)"/>
<clipPath id="c12703_2754"><rect x="1270.3" y="275.4" width="14.80" height="14.20"/></clipPath>
<rect x="1270.3" y="275.4" width="14.80" height="14.20" fill="#fff"/>
<path d="M1256.10,289.60 L1270.30,275.40 M1257.50,289.60 L1271.70,275.40 M1258.90,289.60 L1273.10,275.40 M1260.30,289.60 L1274.50,275.40 M1261.70,289.60 L1275.90,275.40 M1263.10,289.60 L1277.30,275.40 M1264.50,289.60 L1278.70,275.40 M1265.90,289.60 L1280.10,275.40 M1267.30,289.60 L1281.50,275.40 M1268.70,289.60 L1282.90,275.40 M1270.10,289.60 L1284.30,275.40 M1271.50,289.60 L1285.70,275.40 M1272.90,289.60 L1287.10,275.40 M1274.30,289.60 L1288.50,275.40 M1275.70,289.60 L1289.90,275.40 M1277.10,289.60 L1291.30,275.40 M1278.50,289.60 L1292.70,275.40 M1279.90,289.60 L1294.10,275.40 M1281.30,289.60 L1295.50,275.40 M1282.70,289.60 L1296.90,275.40 M1284.10,289.60 L1298.30,275.40 M1285.50,289.60 L1299.70,275.40 M1286.90,289.60 L1301.10,275.40 M1288.30,289.60 L1302.50,275.40 M1289.70,289.60 L1303.90,275.40 M1291.10,289.60 L1305.30,275.40 M1292.50,289.60 L1306.70,275.40 M1293.90,289.60 L1308.10,275.40 M1295.30,289.60 L1309.50,275.40 M1296.70,289.60 L1310.90,275.40 M1298.10,289.60 L1312.30,275.40 " stroke="#111" stroke-width="0.8" clip-path="url(#c12703_2754)"/>
<clipPath id="c13124_2754"><rect x="1312.4" y="275.4" width="14.80" height="14.20"/></clipPath>
<rect x="1312.4" y="275.4" width="14.80" height="14.20" fill="#fff"/>
<path d="M1298.20,289.60 L1312.40,275.40 M1299.60,289.60 L1313.80,275.40 M1301.00,289.60 L1315.20,275.40 M1302.40,289.60 L1316.60,275.40 M1303.80,289.60 L1318.00,275.40 M1305.20,289.60 L1319.40,275.40 M1306.60,289.60 L1320.80,275.40 M1308.00,289.60 L1322.20,275.40 M1309.40,289.60 L1323.60,275.40 M1310.80,289.60 L1325.00,275.40 M1312.20,289.60 L1326.40,275.40 M1313.60,289.60 L1327.80,275.40 M1315.00,289.60 L1329.20,275.40 M1316.40,289.60 L1330.60,275.40 M1317.80,289.60 L1332.00,275.40 M1319.20,289.60 L1333.40,275.40 M1320.60,289.60 L1334.80,275.40 M1322.00,289.60 L1336.20,275.40 M1323.40,289.60 L1337.60,275.40 M1324.80,289.60 L1339.00,275.40 M1326.20,289.60 L1340.40,275.40 M1327.60,289.60 L1341.80,275.40 M1329.00,289.60 L1343.20,275.40 M1330.40,289.60 L1344.60,275.40 M1331.80,289.60 L1346.00,275.40 M1333.20,289.60 L1347.40,275.40 M1334.60,289.60 L1348.80,275.40 M1336.00,289.60 L1350.20,275.40 M1337.40,289.60 L1351.60,275.40 M1338.80,289.60 L1353.00,275.40 M1340.20,289.60 L1354.40,275.40 " stroke="#111" stroke-width="0.8" clip-path="url(#c13124_2754)"/>
<circle cx="1277.5" cy="283" r="1.5" fill="#111"/>
<line x1="1277.5" y1="283.0" x2="1263.0" y2="324.0" stroke="#444" stroke-width="0.8" />
<line x1="1263.0" y1="324.0" x2="1259.0" y2="324.0" stroke="#444" stroke-width="0.8" />
<text x="1215.5" y="307.6" font-size="16" text-anchor="middle" >5</text>
<line x1="1210.5" y1="310.6" x2="1220.5" y2="310.6" stroke="#666" stroke-width="0.6" />
<text x="1215.5" y="325.2" font-size="16" text-anchor="middle" >8</text>
<text x="1220.0" y="312.0" font-size="17" >"</text>
<text x="1226.0" y="320.0" font-size="21" >X</text>
<text x="1245.0" y="307.6" font-size="16" text-anchor="middle" >5</text>
<line x1="1240.0" y1="310.6" x2="1250.0" y2="310.6" stroke="#666" stroke-width="0.6" />
<text x="1245.0" y="325.2" font-size="16" text-anchor="middle" >8</text>
<text x="1249.5" y="312.0" font-size="17" >"</text>
<rect x="1338.3" y="233.2" width="23.2" height="11.0" stroke="#111" stroke-width="1.6" fill="none" rx="1.5" />
<rect x="1340.5" y="235.4" width="18.8" height="6.6" stroke="#111" stroke-width="0.9" fill="none" rx="0" />
<rect x="1339.4" y="244.2" width="135.0" height="45.4" stroke="#111" stroke-width="2" fill="none" rx="1.5" />
<rect x="1341.2" y="246.0" width="131.4" height="41.8" stroke="#111" stroke-width="0.7" fill="none" rx="0" />
<text x="1411.3" y="273.0" font-size="19" text-anchor="middle" >6"x2"</text>
<path d="M1512,244.2 L1478,244.2 Q1476.6,244.2 1476.6,246 L1476.6,288 Q1476.6,289.6 1478,289.6 L1512,289.6" fill="none" stroke="#111" stroke-width="2"/>
<path d="M1512,246 L1478.4,246 L1478.4,287.8 L1512,287.8" fill="none" stroke="#111" stroke-width="0.7"/>
<text x="1397.0" y="233.2" font-size="21.5" >Int.</text>
<text x="1392.5" y="319.5" font-size="21.5" >Ext.</text>
<rect x="1463.3" y="290.7" width="8.7" height="22.8" stroke="#111" stroke-width="1.6" fill="none" rx="0" />
<clipPath id="c14740_2980"><rect x="1474" y="298" width="18.00" height="15.50"/></clipPath>
<rect x="1474" y="298" width="18.00" height="15.50" fill="#fff"/>
<path d="M1458.50,313.50 L1474.00,298.00 M1462.50,313.50 L1478.00,298.00 M1466.50,313.50 L1482.00,298.00 M1470.50,313.50 L1486.00,298.00 M1474.50,313.50 L1490.00,298.00 M1478.50,313.50 L1494.00,298.00 M1482.50,313.50 L1498.00,298.00 M1486.50,313.50 L1502.00,298.00 M1490.50,313.50 L1506.00,298.00 M1494.50,313.50 L1510.00,298.00 M1498.50,313.50 L1514.00,298.00 M1502.50,313.50 L1518.00,298.00 M1506.50,313.50 L1522.00,298.00 " stroke="#111" stroke-width="1" clip-path="url(#c14740_2980)"/>
<rect x="1474" y="298" width="18.00" height="15.50" fill="none" stroke="#111" stroke-width="1.3"/>
<clipPath id="c14633_3135"><rect x="1463.3" y="313.5" width="28.70" height="3.80"/></clipPath>
<rect x="1463.3" y="313.5" width="28.70" height="3.80" fill="#fff"/>
<path d="M1459.50,317.30 L1463.30,313.50 M1462.50,317.30 L1466.30,313.50 M1465.50,317.30 L1469.30,313.50 M1468.50,317.30 L1472.30,313.50 M1471.50,317.30 L1475.30,313.50 M1474.50,317.30 L1478.30,313.50 M1477.50,317.30 L1481.30,313.50 M1480.50,317.30 L1484.30,313.50 M1483.50,317.30 L1487.30,313.50 M1486.50,317.30 L1490.30,313.50 M1489.50,317.30 L1493.30,313.50 M1492.50,317.30 L1496.30,313.50 M1495.50,317.30 L1499.30,313.50 " stroke="#111" stroke-width="0.8" clip-path="url(#c14633_3135)"/>
<rect x="1463.3" y="313.5" width="28.70" height="3.80" fill="none" stroke="#111" stroke-width="1.3"/>
<path d="M1475.5,290.5 C1481,293 1481,296 1476,298" fill="none" stroke="#555" stroke-width="0.8"/>
<line x1="1041.8" y1="498.8" x2="1068.1" y2="498.8" stroke="#111" stroke-width="1.2" />
<line x1="1041.8" y1="696.4" x2="1068.1" y2="696.4" stroke="#111" stroke-width="1.2" />
<line x1="1056.0" y1="498.8" x2="1056.0" y2="696.4" stroke="#111" stroke-width="1.2" />
<path d="M1056.00,498.80 L1054.50,507.80 L1057.50,507.80 Z" fill="#111"/>
<path d="M1056.00,696.40 L1054.50,687.40 L1057.50,687.40 Z" fill="#111"/>
<rect x="1030" y="580" width="20" height="37" fill="#fff"/>
<text transform="translate(1049.00,598.50) rotate(-90)" font-size="25" text-anchor="middle">17"</text>
<rect x="1075.0" y="498.8" width="4.0" height="197.6" stroke="#111" stroke-width="1.3" fill="none" rx="0" />
<g fill="none" stroke-linecap="butt"><path d="M1141.70,566.90 C1142.67,564.58 1146.37,557.98 1147.50,553.00 C1148.63,548.02 1149.42,542.17 1148.50,537.00 C1147.58,531.83 1145.08,525.83 1142.00,522.00 C1138.92,518.17 1134.83,515.75 1130.00,514.00 C1125.17,512.25 1118.67,511.00 1113.00,511.50 C1107.33,512.00 1100.67,514.25 1096.00,517.00 C1091.33,519.75 1087.42,523.83 1085.00,528.00 C1082.58,532.17 1081.50,537.50 1081.50,542.00 C1081.50,546.50 1082.92,551.42 1085.00,555.00 C1087.08,558.58 1090.67,561.75 1094.00,563.50 C1097.33,565.25 1101.75,565.92 1105.00,565.50 C1108.25,565.08 1111.42,563.33 1113.50,561.00 C1115.58,558.67 1116.83,553.08 1117.50,551.50" stroke="#111" stroke-width="9.8"/><path d="M1141.70,566.90 C1140.25,569.75 1136.78,578.82 1133.00,584.00 C1129.22,589.18 1123.83,593.50 1119.00,598.00 C1114.17,602.50 1108.53,606.83 1104.00,611.00 C1099.47,615.17 1095.30,618.67 1091.80,623.00 C1088.30,627.33 1084.80,632.17 1083.00,637.00 C1081.20,641.83 1080.33,647.17 1081.00,652.00 C1081.67,656.83 1084.00,662.50 1087.00,666.00 C1090.00,669.50 1094.67,671.92 1099.00,673.00 C1103.33,674.08 1108.83,674.00 1113.00,672.50 C1117.17,671.00 1121.67,667.42 1124.00,664.00 C1126.33,660.58 1127.33,655.50 1127.00,652.00 C1126.67,648.50 1124.33,644.92 1122.00,643.00 C1119.67,641.08 1115.67,640.17 1113.00,640.50 C1110.33,640.83 1107.17,642.92 1106.00,645.00 C1104.83,647.08 1105.58,651.00 1106.00,653.00 C1106.42,655.00 1108.08,656.33 1108.50,657.00" stroke="#111" stroke-width="9.8"/><path d="M1141.70,566.90 C1142.67,564.58 1146.37,557.98 1147.50,553.00 C1148.63,548.02 1149.42,542.17 1148.50,537.00 C1147.58,531.83 1145.08,525.83 1142.00,522.00 C1138.92,518.17 1134.83,515.75 1130.00,514.00 C1125.17,512.25 1118.67,511.00 1113.00,511.50 C1107.33,512.00 1100.67,514.25 1096.00,517.00 C1091.33,519.75 1087.42,523.83 1085.00,528.00 C1082.58,532.17 1081.50,537.50 1081.50,542.00 C1081.50,546.50 1082.92,551.42 1085.00,555.00 C1087.08,558.58 1090.67,561.75 1094.00,563.50 C1097.33,565.25 1101.75,565.92 1105.00,565.50 C1108.25,565.08 1111.42,563.33 1113.50,561.00 C1115.58,558.67 1116.83,553.08 1117.50,551.50" stroke="#fff" stroke-width="7.2"/><path d="M1141.70,566.90 C1140.25,569.75 1136.78,578.82 1133.00,584.00 C1129.22,589.18 1123.83,593.50 1119.00,598.00 C1114.17,602.50 1108.53,606.83 1104.00,611.00 C1099.47,615.17 1095.30,618.67 1091.80,623.00 C1088.30,627.33 1084.80,632.17 1083.00,637.00 C1081.20,641.83 1080.33,647.17 1081.00,652.00 C1081.67,656.83 1084.00,662.50 1087.00,666.00 C1090.00,669.50 1094.67,671.92 1099.00,673.00 C1103.33,674.08 1108.83,674.00 1113.00,672.50 C1117.17,671.00 1121.67,667.42 1124.00,664.00 C1126.33,660.58 1127.33,655.50 1127.00,652.00 C1126.67,648.50 1124.33,644.92 1122.00,643.00 C1119.67,641.08 1115.67,640.17 1113.00,640.50 C1110.33,640.83 1107.17,642.92 1106.00,645.00 C1104.83,647.08 1105.58,651.00 1106.00,653.00 C1106.42,655.00 1108.08,656.33 1108.50,657.00" stroke="#fff" stroke-width="7.2"/></g>
<g transform="translate(1141.7,566.9) rotate(20)"><rect x="-7.5" y="-2.2" width="15" height="4.4" rx="2" fill="#fff" stroke="#111" stroke-width="1.1"/><line x1="-7" y1="0" x2="7" y2="0" stroke="#111" stroke-width="0.7"/></g>
<g transform="translate(1092.3,622.8) rotate(20)"><rect x="-7.5" y="-2.2" width="15" height="4.4" rx="2" fill="#fff" stroke="#111" stroke-width="1.1"/><line x1="-7" y1="0" x2="7" y2="0" stroke="#111" stroke-width="0.7"/></g>
<rect x="1162.8" y="495.1" width="29.4" height="198.3" stroke="#111" stroke-width="1.3" fill="none" rx="0" />
<rect x="1173.4" y="512.4" width="9.1" height="163.4" stroke="#111" stroke-width="1.3" fill="none" rx="4.5" />
<line x1="1173.4" y1="568.5" x2="1182.5" y2="568.5" stroke="#666" stroke-width="0.7" />
<line x1="1173.4" y1="570.5" x2="1182.5" y2="570.5" stroke="#666" stroke-width="0.7" />
<line x1="1173.4" y1="625.0" x2="1182.5" y2="625.0" stroke="#666" stroke-width="0.7" />
<line x1="1173.4" y1="627.0" x2="1182.5" y2="627.0" stroke="#666" stroke-width="0.7" />
<line x1="1173.4" y1="636.0" x2="1182.5" y2="636.0" stroke="#888" stroke-width="0.7" />
<line x1="1178.0" y1="512.4" x2="1210.0" y2="512.4" stroke="#111" stroke-width="0.8" />
<line x1="1178.0" y1="675.8" x2="1210.0" y2="675.8" stroke="#111" stroke-width="0.8" />
<line x1="1203.7" y1="512.4" x2="1203.7" y2="586.0" stroke="#111" stroke-width="0.8" />
<line x1="1203.7" y1="602.0" x2="1203.7" y2="675.8" stroke="#111" stroke-width="0.8" />
<path d="M1203.70,512.40 L1202.70,517.40 L1204.70,517.40 Z" fill="#111"/>
<path d="M1203.70,675.80 L1202.70,670.80 L1204.70,670.80 Z" fill="#111"/>
<text transform="translate(1206.50,594.00) rotate(-90)" font-size="8" text-anchor="middle">14"</text>
<line x1="1162.8" y1="476.0" x2="1162.8" y2="495.0" stroke="#111" stroke-width="0.8" />
<line x1="1192.2" y1="476.0" x2="1192.2" y2="495.0" stroke="#111" stroke-width="0.8" />
<line x1="1162.8" y1="481.0" x2="1168.0" y2="481.0" stroke="#111" stroke-width="0.8" />
<line x1="1187.0" y1="481.0" x2="1192.2" y2="481.0" stroke="#111" stroke-width="0.8" />
<text x="1170.0" y="488.5" font-size="10.5" >2</text>
<text x="1176.0" y="484.0" font-size="7.5" >1</text>
<line x1="1175.5" y1="490.0" x2="1182.0" y2="478.0" stroke="#111" stroke-width="0.7" />
<text x="1180.0" y="491.0" font-size="9" >2</text>
<text x="1186.0" y="485.0" font-size="8" >"</text>
<rect x="1055.4" y="713.0" width="154.4" height="59.7" stroke="#222" stroke-width="1.7" fill="none" rx="0" />
<g transform="translate(1061.5,741.8) scale(1.245,1)"><text x="0" y="0" font-size="33" letter-spacing="0.3" stroke="#111" stroke-width="0.15" style="font-family:'Liberation Serif',serif">Florence</text></g>
<g transform="translate(1093.5,763) scale(1.16,1)"><text x="0" y="0" font-size="22.5" font-weight="bold" letter-spacing="0.2" style="font-family:'Liberation Serif',serif">w/rings</text></g>
<text x="1319.8" y="534.9" font-size="9.5" >Ø1/4"</text>
<text x="1397.8" y="539.7" font-size="12" >outside</text>
<text x="1311.0" y="553.7" font-size="9.5" >Ø5/8"</text>
<text x="1307.0" y="588.8" font-size="9.5" >1 1/2"</text>
<text x="1308.6" y="643.0" font-size="12.2" >inside</text>
<text x="1281.6" y="663.5" font-size="12.5" >Std. Preparation for Installation</text>
<path d="M1356.8,643 L1356.82,546.17 L1374.18,537.33 L1425.3,566.4 L1425.3,583 C1423.2,588.9 1416.4,592.8 1408.3,592.3 M1356.82,548.59 L1408.3,575.3 L1408.3,592.8 C1408.7,602.6 1404.5,611.1 1397.7,613.6 L1388.3,616.6 M1408.3,593.2 C1404.5,598.3 1399.4,599.6 1395.1,598.7 C1390,598.3 1389.1,604.3 1389.6,607.7 C1390,612.8 1388.7,615.3 1388.3,616.6 C1384,619.6 1378.1,618.7 1375.5,619.6 C1371.3,621.3 1369.6,627.2 1370.9,632.3 M1388.3,616.6 C1388.7,623.8 1385.7,628.9 1378.1,630.6 C1373,631.9 1370.9,633.2 1370,634.5 C1368.3,638.3 1362.8,640.9 1356.8,643 M1374.18,537.33 L1374.18,555.82 M1374.18,572.70 L1374.18,588.78" fill="none" stroke="#111" stroke-width="1.4"/>
<ellipse cx="1389.77" cy="555.82" rx="3.6" ry="4" fill="none" stroke="#111" stroke-width="1.3"/>
<ellipse cx="1373.70" cy="567.07" rx="3.6" ry="4" fill="none" stroke="#111" stroke-width="1.3"/>
<path d="M1349.58,530.90 L1361.64,530.90 L1388.97,555.02 M1340.74,550.19 L1352.80,550.19 L1372.89,566.27 M1332.70,585.56 L1374.18,585.56" fill="none" stroke="#111" stroke-width="1.3"/>
<path d="M92.50,46.40 C93.80,46.07 97.87,45.55 100.30,44.40 C102.73,43.25 105.80,41.28 107.10,39.50 C108.40,37.72 108.75,35.32 108.10,33.70 C107.45,32.08 105.63,30.53 103.20,29.80 C100.77,29.07 97.07,28.98 93.50,29.30 C89.93,29.62 85.38,30.32 81.80,31.70 C78.22,33.08 74.53,35.32 72.00,37.60 C69.47,39.88 67.42,43.12 66.60,45.40 C65.78,47.68 66.20,49.83 67.10,51.30 C68.00,52.77 69.88,53.63 72.00,54.20 C74.12,54.77 78.50,54.62 79.80,54.70" fill="none" stroke="#111" stroke-width="0.9" stroke-linecap="round"/>
<path d="M81.61,31.35 C80.18,31.94 75.71,32.93 73.05,34.90 C70.40,36.87 66.89,40.36 65.70,43.19 C64.50,46.01 64.88,49.94 65.89,51.83 C66.91,53.73 70.81,54.09 71.80,54.54 L72.20,53.86 C71.55,53.34 68.79,52.27 68.31,50.77 C67.82,49.26 68.20,47.09 69.30,44.81 C70.41,42.54 72.83,39.23 74.95,37.10 C77.06,34.97 80.82,32.89 81.99,32.05 Z" fill="#111"/>
<path d="M92.20,47.29 C92.73,47.24 94.09,47.37 95.42,46.99 C96.74,46.62 99.36,45.37 100.15,45.04 L99.85,43.76 C98.97,43.83 95.92,43.78 94.58,44.21 C93.24,44.63 92.27,45.96 91.80,46.31 Z" fill="#111"/>
<path d="M79.80,54.70 C78.02,54.62 73.00,53.97 69.10,54.20 C65.20,54.43 60.32,54.97 56.40,56.10 C52.48,57.23 48.53,59.03 45.60,61.00 C42.67,62.97 40.27,65.45 38.80,67.90 C37.33,70.35 36.48,73.27 36.80,75.70 C37.12,78.13 38.58,80.72 40.70,82.50 C42.82,84.28 46.40,85.83 49.50,86.40 C52.60,86.97 55.72,86.55 59.30,85.90 C62.88,85.25 67.25,83.88 71.00,82.50 C74.75,81.12 78.87,79.55 81.80,77.60 C84.73,75.65 87.15,72.92 88.60,70.80 C90.05,68.68 90.67,66.53 90.50,64.90 C90.33,63.27 89.05,61.88 87.60,61.00 C86.15,60.12 84.23,59.60 81.80,59.60 C79.37,59.60 75.77,59.95 73.00,61.00 C70.23,62.05 67.48,63.95 65.20,65.90 C62.92,67.85 60.77,70.27 59.30,72.70 C57.83,75.13 56.73,77.88 56.40,80.50 C56.07,83.12 56.48,85.95 57.30,88.40 C58.12,90.85 59.67,93.25 61.30,95.20 C62.93,97.15 65.23,98.80 67.10,100.10 C68.97,101.40 71.60,102.52 72.50,103.00" fill="none" stroke="#111" stroke-width="0.9" stroke-linecap="round"/>
<path d="M45.72,60.32 C44.52,61.20 40.38,63.06 38.54,65.61 C36.69,68.15 34.50,72.59 34.66,75.57 C34.81,78.55 37.02,81.63 39.46,83.50 C41.91,85.36 47.69,86.22 49.34,86.76 L49.66,86.04 C48.31,85.22 43.29,82.87 41.54,81.10 C39.78,79.33 39.15,77.71 39.14,75.43 C39.13,73.14 40.28,69.82 41.46,67.39 C42.65,64.97 45.48,61.97 46.28,60.88 Z" fill="#111"/>
<path d="M64.90,65.64 C63.77,66.65 59.85,69.26 58.14,71.70 C56.42,74.13 54.97,77.40 54.64,80.25 C54.30,83.11 55.06,86.32 56.12,88.84 C57.17,91.37 60.15,94.30 60.95,95.39 L61.65,95.01 C61.19,93.83 59.40,90.33 58.88,87.96 C58.37,85.58 58.23,83.19 58.56,80.75 C58.89,78.30 59.71,75.74 60.86,73.30 C62.02,70.87 64.73,67.35 65.50,66.16 Z" fill="#111"/>
<path d="M85.20,80.40 C86.50,80.07 89.75,80.03 93.00,78.40 C96.25,76.77 100.37,73.75 104.70,70.60 C109.03,67.45 115.08,61.93 119.00,59.50 C122.92,57.07 126.67,56.58 128.20,56.00" fill="none" stroke="#111" stroke-width="0.85" stroke-linecap="round"/>
<circle cx="85.5" cy="80.3" r="1.7" fill="#111"/>
<circle cx="128.3" cy="55.8" r="1.6" fill="#111"/>
<path d="M96.30,66.00 C97.92,64.92 103.07,61.40 106.00,59.50 C108.93,57.60 112.58,55.42 113.90,54.60" fill="none" stroke="#111" stroke-width="0.85" stroke-linecap="round"/>
<path d="M113.46,55.09 C113.63,55.44 116.03,54.98 114.48,57.21 C112.93,59.44 106.92,65.22 104.17,68.48 C101.42,71.74 98.48,74.52 97.97,76.75 C97.46,78.98 99.76,81.16 101.11,81.84 C102.46,82.51 105.23,80.97 106.05,80.79 L105.95,80.01 C105.27,80.03 102.61,80.46 101.89,80.16 C101.17,79.87 100.64,79.69 101.63,78.25 C102.62,76.81 105.18,74.76 107.83,71.52 C110.48,68.28 116.44,61.63 117.52,58.79 C118.61,55.96 114.87,55.22 114.34,54.51 Z" fill="#111"/>
<path d="M106.00,80.40 C107.10,79.85 110.20,78.52 112.60,77.10 C115.00,75.68 119.10,72.77 120.40,71.90" fill="none" stroke="#111" stroke-width="0.85" stroke-linecap="round"/>
<path d="M144.97,54.23 C143.77,54.43 141.29,53.81 137.77,55.48 C134.25,57.14 127.16,61.01 123.85,64.21 C120.53,67.40 118.32,71.82 117.86,74.65 C117.40,77.47 119.57,80.04 121.07,81.16 C122.57,82.29 125.89,81.35 126.85,81.39 L126.95,80.61 C126.18,80.45 123.17,80.45 122.33,79.64 C121.50,78.83 121.10,77.73 121.94,75.75 C122.78,73.78 124.44,70.70 127.35,67.79 C130.27,64.89 136.45,60.46 139.43,58.32 C142.41,56.19 144.27,55.53 145.23,54.97 Z" fill="#111"/>
<path d="M126.90,81.00 C128.85,80.25 135.57,78.02 138.60,76.50 C141.63,74.98 142.87,73.48 145.10,71.90 C147.33,70.32 150.85,67.82 152.00,67.00" fill="none" stroke="#111" stroke-width="0.85" stroke-linecap="round"/>
<path d="M145.10,54.60 C145.97,54.98 149.65,55.87 150.30,56.90 C150.95,57.93 149.97,60.03 149.00,60.80 C148.03,61.57 145.25,61.38 144.50,61.50" fill="none" stroke="#111" stroke-width="0.85" stroke-linecap="round"/>
<circle cx="144.6" cy="61.4" r="1.5" fill="#111"/>
<path d="M191.76,29.69 C190.44,30.45 186.49,32.34 183.89,34.28 C181.29,36.21 179.63,38.27 176.13,41.30 C172.63,44.33 167.25,48.40 162.89,52.46 C158.53,56.53 153.54,61.81 149.95,65.68 C146.36,69.55 142.48,73.03 141.37,75.68 C140.25,78.33 142.21,80.63 143.26,81.58 C144.32,82.54 146.96,81.43 147.70,81.40 L147.70,80.60 C147.14,80.57 144.91,80.96 144.34,80.42 C143.76,79.87 142.75,79.23 144.23,77.32 C145.72,75.40 149.57,72.45 153.25,68.92 C156.93,65.39 161.97,60.17 166.31,56.14 C170.65,52.10 175.97,47.93 179.27,44.70 C182.57,41.46 183.95,39.12 186.11,36.72 C188.27,34.32 191.22,31.38 192.24,30.31 Z" fill="#111"/>
<path d="M168.00,54.00 C169.33,53.33 173.00,51.83 176.00,50.00 C179.00,48.17 183.17,45.50 186.00,43.00 C188.83,40.50 191.92,37.17 193.00,35.00 C194.08,32.83 193.67,30.58 192.50,30.00 C191.33,29.42 187.08,31.25 186.00,31.50" fill="none" stroke="#111" stroke-width="0.85" stroke-linecap="round"/>
<path d="M147.70,81.00 C149.42,80.33 154.62,78.83 158.00,77.00 C161.38,75.17 164.33,73.17 168.00,70.00 C171.67,66.83 178.00,60.00 180.00,58.00" fill="none" stroke="#111" stroke-width="0.85" stroke-linecap="round"/>
<path d="M182.68,54.02 C181.97,54.17 181.74,52.87 178.43,54.90 C175.13,56.93 166.47,62.59 162.86,66.20 C159.24,69.81 157.28,73.97 156.74,76.55 C156.21,79.13 158.31,80.99 159.63,81.70 C160.95,82.41 163.81,80.94 164.65,80.79 L164.55,80.01 C163.85,80.06 161.15,80.69 160.37,80.30 C159.59,79.91 158.86,79.40 159.86,77.65 C160.85,75.90 162.86,73.06 166.34,69.80 C169.83,66.54 177.94,60.54 180.77,58.10 C183.60,55.66 182.90,55.66 183.32,55.18 Z" fill="#111"/>
<path d="M164.60,80.40 C165.83,79.83 168.60,79.40 172.00,77.00 C175.40,74.60 180.68,69.73 185.00,66.00 C189.32,62.27 195.75,56.50 197.90,54.60" fill="none" stroke="#111" stroke-width="0.85" stroke-linecap="round"/>
<path d="M198.14,54.05 C197.23,54.38 195.54,53.83 192.67,56.04 C189.79,58.24 184.16,63.70 180.87,67.28 C177.59,70.86 173.82,75.10 172.96,77.49 C172.10,79.88 174.53,81.07 175.71,81.64 C176.89,82.20 179.32,81.02 180.04,80.89 L179.96,80.11 C179.35,80.12 176.98,80.33 176.29,80.16 C175.60,80.00 174.47,80.68 175.84,79.11 C177.21,77.54 181.28,74.08 184.53,70.72 C187.77,67.36 192.95,61.56 195.33,58.96 C197.72,56.37 198.27,55.79 198.86,55.15 Z" fill="#111"/>
<path d="M180.00,80.50 C181.67,79.58 186.67,77.42 190.00,75.00 C193.33,72.58 197.33,68.83 200.00,66.00 C202.67,63.17 204.37,60.32 206.00,58.00 C207.63,55.68 209.17,53.08 209.80,52.10" fill="none" stroke="#111" stroke-width="0.85" stroke-linecap="round"/>
<circle cx="209.8" cy="52.3" r="1.6" fill="#111"/>
<path d="M208.07,55.02 C207.99,56.20 207.75,60.06 207.58,62.08 C207.41,64.09 207.37,65.48 207.06,67.12 C206.76,68.75 206.46,70.34 205.75,71.89 C205.04,73.44 204.13,75.14 202.81,76.42 C201.49,77.69 199.62,78.96 197.82,79.53 C196.02,80.09 192.99,79.76 192.02,79.80 L191.98,80.60 C193.01,80.74 195.98,81.64 198.18,81.47 C200.38,81.31 203.18,80.81 205.19,79.58 C207.20,78.36 209.19,76.13 210.25,74.11 C211.31,72.10 211.54,69.51 211.54,67.48 C211.53,65.45 210.62,64.01 210.22,61.92 C209.82,59.84 209.31,56.14 209.13,54.98 Z" fill="#111"/>
<path d="M192.00,80.20 C191.58,79.75 189.33,78.33 189.50,77.50 C189.67,76.67 190.92,75.45 193.00,75.20 C195.08,74.95 200.50,75.87 202.00,76.00" fill="none" stroke="#111" stroke-width="0.85" stroke-linecap="round"/>
<path d="M209.00,73.00 C209.83,72.67 212.17,71.83 214.00,71.00 C215.83,70.17 219.00,68.50 220.00,68.00" fill="none" stroke="#111" stroke-width="0.85" stroke-linecap="round"/>
<path d="M237.24,53.96 C236.32,54.38 234.48,54.56 231.73,56.48 C228.99,58.40 223.95,62.39 220.77,65.49 C217.58,68.58 213.76,72.46 212.62,75.04 C211.47,77.63 213.00,80.04 213.89,81.01 C214.79,81.99 217.32,80.92 218.00,80.90 L218.00,80.10 C217.52,80.08 215.48,80.51 215.11,79.99 C214.74,79.46 214.26,78.77 215.78,76.96 C217.30,75.14 221.15,72.02 224.23,69.11 C227.32,66.21 231.95,61.83 234.27,59.52 C236.59,57.21 237.52,55.95 238.16,55.24 Z" fill="#111"/>
<ellipse cx="242.3" cy="44.9" rx="2.9" ry="2.1" transform="rotate(-25 242.3 44.9)" fill="#111"/>
<path d="M218.00,80.50 C219.67,79.75 224.33,78.42 228.00,76.00 C231.67,73.58 236.33,68.83 240.00,66.00 C243.67,63.17 247.28,60.42 250.00,59.00 C252.72,57.58 255.25,57.75 256.30,57.50" fill="none" stroke="#111" stroke-width="0.85" stroke-linecap="round"/>
<path d="M256.13,57.36 C255.35,57.89 253.45,58.87 251.48,60.53 C249.51,62.20 246.56,64.66 244.30,67.36 C242.04,70.06 238.65,74.33 237.93,76.71 C237.21,79.08 239.00,80.84 240.01,81.62 C241.02,82.40 243.33,81.43 244.00,81.40 L244.00,80.60 C243.50,80.57 241.45,80.77 240.99,80.38 C240.54,79.99 240.09,79.92 241.27,78.29 C242.45,76.67 245.89,73.11 248.10,70.64 C250.31,68.17 252.96,65.47 254.52,63.47 C256.08,61.46 256.98,59.44 257.47,58.64 Z" fill="#111"/>
<path d="M244.00,81.00 C245.50,80.33 250.00,79.00 253.00,77.00 C256.00,75.00 259.33,71.67 262.00,69.00 C264.67,66.33 267.50,63.00 269.00,61.00 C270.50,59.00 270.67,57.67 271.00,57.00" fill="none" stroke="#111" stroke-width="0.85" stroke-linecap="round"/>
<ellipse cx="270.8" cy="56.2" rx="2.4" ry="2.1" fill="#111"/>
<path d="M288.39,54.62 C286.86,54.86 282.56,54.60 279.22,56.05 C275.87,57.50 270.92,60.79 268.30,63.34 C265.69,65.88 264.11,68.72 263.52,71.33 C262.93,73.93 263.89,77.28 264.76,78.94 C265.63,80.61 268.08,80.91 268.75,81.30 L269.25,80.70 C268.92,80.26 267.44,79.39 267.24,78.06 C267.05,76.72 267.34,74.57 268.08,72.67 C268.82,70.78 269.58,68.95 271.70,66.66 C273.82,64.38 277.97,60.83 280.78,58.95 C283.60,57.07 287.31,55.98 288.61,55.38 Z" fill="#111"/>
<path d="M269.00,81.00 C270.83,80.50 275.62,80.42 280.00,78.00 C284.38,75.58 292.75,68.42 295.30,66.50" fill="none" stroke="#111" stroke-width="0.85" stroke-linecap="round"/>
<path d="M276.00,66.00 C278.00,65.50 284.83,64.33 288.00,63.00 C291.17,61.67 294.33,59.42 295.00,58.00 C295.67,56.58 293.67,55.00 292.00,54.50 C290.33,54.00 286.17,54.92 285.00,55.00" fill="none" stroke="#111" stroke-width="0.85" stroke-linecap="round"/>
<g transform="translate(87.3,110.9) scale(1.38,1)"><text x="0" y="0" font-size="16.4" letter-spacing="0.6" stroke="#111" stroke-width="0.35" style="font-family:'Liberation Serif',serif">IRON</text></g>
<g transform="translate(190.2,111) scale(1.3,1)"><text x="0" y="0" font-size="15" letter-spacing="0.6" stroke="#111" stroke-width="0.55">DOORS</text></g>
<path d="M168.00,93.10 C168.32,93.42 169.90,94.42 169.90,95.00 C169.90,95.58 169.37,96.02 168.00,96.60 C166.63,97.18 163.00,97.78 161.70,98.50 C160.40,99.22 160.07,100.23 160.20,100.90 C160.33,101.57 161.20,102.18 162.50,102.50 C163.80,102.82 166.18,102.42 168.00,102.80 C169.82,103.18 172.03,103.62 173.40,104.80 C174.77,105.98 176.07,108.15 176.20,109.90 C176.33,111.65 175.43,113.80 174.20,115.30 C172.97,116.80 170.62,118.50 168.80,118.90 C166.98,119.30 164.65,118.38 163.30,117.70 C161.95,117.02 161.13,115.28 160.70,114.80" fill="none" stroke="#111" stroke-width="1.1" stroke-linecap="round"/>
<path d="M169.81,103.47 C170.38,104.00 172.47,105.54 173.25,106.64 C174.03,107.74 174.41,108.85 174.48,110.08 C174.55,111.30 174.27,112.73 173.66,113.98 C173.04,115.23 171.25,116.96 170.77,117.56 L171.23,118.04 C171.91,117.54 174.36,116.37 175.34,115.02 C176.33,113.67 177.22,111.53 177.12,109.92 C177.02,108.31 175.91,106.52 174.75,105.36 C173.60,104.19 170.95,103.33 170.19,102.93 Z" fill="#111"/>
<path d="M166.40,107.50 C166.08,108.03 164.63,109.72 164.50,110.70 C164.37,111.68 164.83,112.88 165.60,113.40 C166.37,113.92 167.92,114.20 169.10,113.80 C170.28,113.40 171.98,112.30 172.70,111.00 C173.42,109.70 173.67,107.30 173.40,106.00 C173.13,104.70 171.48,103.67 171.10,103.20" fill="none" stroke="#111" stroke-width="0.9" stroke-linecap="round"/>
<circle cx="168" cy="93.1" r="1.4" fill="#111"/>
<circle cx="166.6" cy="107.3" r="1.5" fill="#111"/>
<circle cx="160.9" cy="114.6" r="1.5" fill="#111"/>
</svg>
</body></html>
